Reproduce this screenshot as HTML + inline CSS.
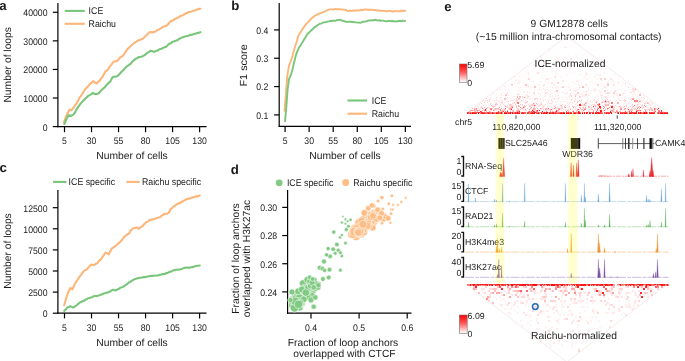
<!DOCTYPE html>
<html><head><meta charset="utf-8"><style>
html,body{margin:0;padding:0;background:#fff;width:685px;height:361px;overflow:hidden}
svg{display:block;will-change:transform;text-rendering:geometricPrecision;font-family:"Liberation Sans",sans-serif;fill:#1a1a1a}
</style></head><body>
<svg width="685" height="361" viewBox="0 0 685 361">
<text x="-0.80" y="9.80" font-size="13.2" text-anchor="start" font-weight="bold" >a</text>
<line x1="57.90" y1="3.10" x2="57.90" y2="127.20" stroke="#000" stroke-width="1.2" />
<line x1="57.30" y1="126.60" x2="206.50" y2="126.60" stroke="#000" stroke-width="1.2" />
<line x1="52.80" y1="126.60" x2="57.90" y2="126.60" stroke="#000" stroke-width="1.2" />
<text x="0" y="0" font-size="8.7" text-anchor="end" transform="translate(47.50,130.50) scale(1,1.1)" >0</text>
<line x1="52.80" y1="98.02" x2="57.90" y2="98.02" stroke="#000" stroke-width="1.2" />
<text x="0" y="0" font-size="8.7" text-anchor="end" transform="translate(47.50,101.92) scale(1,1.1)" >10000</text>
<line x1="52.80" y1="69.44" x2="57.90" y2="69.44" stroke="#000" stroke-width="1.2" />
<text x="0" y="0" font-size="8.7" text-anchor="end" transform="translate(47.50,73.34) scale(1,1.1)" >20000</text>
<line x1="52.80" y1="40.86" x2="57.90" y2="40.86" stroke="#000" stroke-width="1.2" />
<text x="0" y="0" font-size="8.7" text-anchor="end" transform="translate(47.50,44.76) scale(1,1.1)" >30000</text>
<line x1="52.80" y1="12.28" x2="57.90" y2="12.28" stroke="#000" stroke-width="1.2" />
<text x="0" y="0" font-size="8.7" text-anchor="end" transform="translate(47.50,16.18) scale(1,1.1)" >40000</text>
<line x1="64.50" y1="126.60" x2="64.50" y2="132.20" stroke="#000" stroke-width="1.2" />
<text x="0" y="0" font-size="8.7" text-anchor="middle" transform="translate(64.50,144.30) scale(1,1.1)" >5</text>
<line x1="91.52" y1="126.60" x2="91.52" y2="132.20" stroke="#000" stroke-width="1.2" />
<text x="0" y="0" font-size="8.7" text-anchor="middle" transform="translate(91.52,144.30) scale(1,1.1)" >30</text>
<line x1="118.54" y1="126.60" x2="118.54" y2="132.20" stroke="#000" stroke-width="1.2" />
<text x="0" y="0" font-size="8.7" text-anchor="middle" transform="translate(118.54,144.30) scale(1,1.1)" >55</text>
<line x1="145.56" y1="126.60" x2="145.56" y2="132.20" stroke="#000" stroke-width="1.2" />
<text x="0" y="0" font-size="8.7" text-anchor="middle" transform="translate(145.56,144.30) scale(1,1.1)" >80</text>
<line x1="172.58" y1="126.60" x2="172.58" y2="132.20" stroke="#000" stroke-width="1.2" />
<text x="0" y="0" font-size="8.7" text-anchor="middle" transform="translate(172.58,144.30) scale(1,1.1)" >105</text>
<line x1="199.60" y1="126.60" x2="199.60" y2="132.20" stroke="#000" stroke-width="1.2" />
<text x="0" y="0" font-size="8.7" text-anchor="middle" transform="translate(199.60,144.30) scale(1,1.1)" >130</text>
<text x="132.00" y="159.30" font-size="10.3" text-anchor="middle" >Number of cells</text>
<text x="0.00" y="0.00" font-size="10.3" text-anchor="middle" transform="translate(11.3,64.8) rotate(-90)">Number of loops</text>
<polyline points="63.90,122.17 65.80,117.35 67.80,112.58 69.70,109.67 71.60,110.14 73.60,107.75 75.05,105.27 76.50,103.58 77.95,100.97 79.40,97.89 80.85,96.09 82.30,93.67 83.75,91.48 85.20,88.95 86.65,87.68 88.10,86.24 89.55,84.46 91.00,83.13 93.00,81.17 94.90,82.55 96.80,83.46 98.30,81.65 99.80,80.58 101.25,78.23 102.70,76.57 104.15,73.83 105.60,71.30 107.05,70.37 108.50,68.53 110.00,66.33 111.55,64.54 113.10,62.22 114.50,61.44 115.90,61.41 117.30,60.72 118.85,59.06 120.40,57.02 121.95,56.41 123.50,55.21 125.05,52.78 126.60,50.14 128.00,48.55 129.40,47.35 130.80,46.00 132.17,44.79 133.53,43.54 134.90,42.48 136.50,41.61 138.10,40.20 139.47,40.14 140.83,39.47 142.20,38.99 143.60,38.02 145.00,36.56 146.40,35.19 147.95,33.74 149.50,32.32 150.90,31.93 152.30,32.49 153.70,31.91 155.07,31.65 156.43,31.01 157.80,29.81 159.10,29.50 160.40,28.47 161.70,27.82 163.00,26.71 164.55,26.23 166.10,25.81 168.20,24.17 169.75,22.17 171.30,20.95 172.60,20.43 173.90,19.82 175.20,18.83 176.50,18.21 177.80,17.64 179.10,17.12 180.40,16.04 181.70,15.75 183.00,15.10 184.30,14.47 185.60,13.30 186.90,13.17 188.16,12.23 189.42,11.96 190.68,11.71 191.94,11.47 193.20,10.70 194.40,10.70 195.60,10.13 196.80,9.64 198.00,9.29 199.20,8.86 200.40,8.70" fill="none" stroke="#fdb679" stroke-width="2.1" stroke-linejoin="round" stroke-linecap="round"/>
<polyline points="64.30,124.18 65.55,121.29 66.80,118.19 68.70,115.16 70.70,115.90 72.15,115.35 73.60,114.28 75.50,111.56 76.95,108.87 78.40,106.66 79.85,104.46 81.30,102.88 82.75,101.39 84.20,99.75 85.65,98.32 87.10,96.91 88.60,95.67 90.10,94.93 91.55,94.13 93.00,92.86 94.90,94.08 96.80,94.01 98.80,93.21 100.25,91.45 101.70,89.86 103.15,88.78 104.60,87.28 106.05,85.62 107.50,83.96 108.95,82.57 110.40,81.38 112.40,77.37 114.30,76.77 115.75,76.55 117.20,76.32 119.10,74.59 120.80,72.52 122.50,70.96 123.87,69.55 125.23,67.91 126.60,66.59 128.00,65.59 129.40,64.62 130.80,63.69 132.17,61.75 133.53,60.58 134.90,59.36 136.30,58.48 137.70,57.95 139.10,56.95 140.50,57.06 141.90,56.48 143.30,55.87 144.67,55.16 146.03,53.92 147.40,52.82 148.95,51.94 150.50,50.68 151.90,50.96 153.30,51.59 154.70,51.72 156.10,50.74 157.50,50.63 158.90,49.61 160.27,49.10 161.63,48.74 163.00,47.87 164.55,47.18 166.10,46.73 168.20,44.63 169.60,43.58 171.00,43.20 172.40,41.73 173.77,41.45 175.13,41.15 176.50,40.44 177.80,40.01 179.10,38.80 180.40,38.46 181.70,37.64 183.00,37.10 184.30,36.83 185.60,36.17 186.90,36.00 188.16,35.68 189.42,35.21 190.68,34.88 191.94,34.72 193.20,34.25 194.40,33.70 195.60,33.75 196.80,33.11 198.00,32.89 199.20,32.72 200.40,32.20" fill="none" stroke="#79c67a" stroke-width="2.1" stroke-linejoin="round" stroke-linecap="round"/>
<line x1="64.70" y1="10.90" x2="84.80" y2="10.90" stroke="#79c67a" stroke-width="2.1" />
<text x="0" y="0" font-size="8.8" text-anchor="start" transform="translate(88.60,13.90) scale(1,1.1)" >ICE</text>
<line x1="64.70" y1="23.80" x2="84.80" y2="23.80" stroke="#fdb679" stroke-width="2.1" />
<text x="0" y="0" font-size="8.8" text-anchor="start" transform="translate(88.60,26.80) scale(1,1.1)" >Raichu</text>
<text x="231.20" y="9.70" font-size="13.2" text-anchor="start" font-weight="bold" >b</text>
<line x1="279.20" y1="2.90" x2="279.20" y2="127.00" stroke="#000" stroke-width="1.2" />
<line x1="278.60" y1="126.40" x2="411.00" y2="126.40" stroke="#000" stroke-width="1.2" />
<line x1="274.10" y1="114.90" x2="279.20" y2="114.90" stroke="#000" stroke-width="1.2" />
<text x="0" y="0" font-size="8.7" text-anchor="end" transform="translate(268.30,118.80) scale(1,1.1)" >0.1</text>
<line x1="274.10" y1="86.57" x2="279.20" y2="86.57" stroke="#000" stroke-width="1.2" />
<text x="0" y="0" font-size="8.7" text-anchor="end" transform="translate(268.30,90.47) scale(1,1.1)" >0.2</text>
<line x1="274.10" y1="58.24" x2="279.20" y2="58.24" stroke="#000" stroke-width="1.2" />
<text x="0" y="0" font-size="8.7" text-anchor="end" transform="translate(268.30,62.14) scale(1,1.1)" >0.3</text>
<line x1="274.10" y1="29.91" x2="279.20" y2="29.91" stroke="#000" stroke-width="1.2" />
<text x="0" y="0" font-size="8.7" text-anchor="end" transform="translate(268.30,33.81) scale(1,1.1)" >0.4</text>
<line x1="285.10" y1="126.40" x2="285.10" y2="132.00" stroke="#000" stroke-width="1.2" />
<text x="0" y="0" font-size="8.7" text-anchor="middle" transform="translate(285.10,144.30) scale(1,1.1)" >5</text>
<line x1="309.15" y1="126.40" x2="309.15" y2="132.00" stroke="#000" stroke-width="1.2" />
<text x="0" y="0" font-size="8.7" text-anchor="middle" transform="translate(309.15,144.30) scale(1,1.1)" >30</text>
<line x1="333.20" y1="126.40" x2="333.20" y2="132.00" stroke="#000" stroke-width="1.2" />
<text x="0" y="0" font-size="8.7" text-anchor="middle" transform="translate(333.20,144.30) scale(1,1.1)" >55</text>
<line x1="357.25" y1="126.40" x2="357.25" y2="132.00" stroke="#000" stroke-width="1.2" />
<text x="0" y="0" font-size="8.7" text-anchor="middle" transform="translate(357.25,144.30) scale(1,1.1)" >80</text>
<line x1="381.30" y1="126.40" x2="381.30" y2="132.00" stroke="#000" stroke-width="1.2" />
<text x="0" y="0" font-size="8.7" text-anchor="middle" transform="translate(381.30,144.30) scale(1,1.1)" >105</text>
<line x1="405.35" y1="126.40" x2="405.35" y2="132.00" stroke="#000" stroke-width="1.2" />
<text x="0" y="0" font-size="8.7" text-anchor="middle" transform="translate(405.35,144.30) scale(1,1.1)" >130</text>
<text x="345.00" y="159.30" font-size="10.3" text-anchor="middle" >Number of cells</text>
<text x="0.00" y="0.00" font-size="10.3" text-anchor="middle" textLength="42.4" lengthAdjust="spacingAndGlyphs" transform="translate(247.3,65.4) rotate(-90)">F1 score</text>
<polyline points="284.50,110.72 285.90,94.61 287.10,77.49 289.00,65.71 290.60,61.53 292.30,56.67 294.20,49.52 296.50,42.27 298.50,35.27 299.83,33.31 301.17,31.32 302.50,29.06 303.80,27.32 305.10,25.36 306.40,23.66 307.62,22.62 308.85,21.36 310.07,19.86 311.30,18.56 312.75,17.46 314.20,16.33 315.65,15.34 317.10,14.68 318.58,13.92 320.05,13.32 321.52,13.02 323.00,12.12 324.48,11.57 325.95,10.77 327.42,10.04 328.90,9.68 330.35,9.35 331.80,9.41 333.25,9.55 334.70,9.12 336.02,8.81 337.33,9.34 338.65,9.31 339.97,9.30 341.28,9.45 342.60,9.38 344.05,9.80 345.50,9.90 346.95,10.74 348.40,11.12 349.70,10.50 351.00,10.84 352.30,10.75 353.60,10.51 354.90,10.49 356.20,10.39 357.43,10.57 358.65,10.15 359.88,10.26 361.10,9.80 362.32,10.04 363.55,9.93 364.77,9.50 366.00,9.45 367.23,9.79 368.45,9.76 369.68,9.69 370.90,9.61 372.12,9.78 373.35,10.14 374.57,9.87 375.80,10.49 377.10,10.15 378.40,10.71 379.70,10.40 381.00,10.96 382.30,10.90 383.60,10.87 384.90,10.99 386.20,11.19 387.50,11.26 388.82,11.07 390.13,11.00 391.45,11.21 392.77,11.50 394.08,11.29 395.40,10.90 396.62,11.37 397.85,11.26 399.07,11.34 400.30,10.78 401.52,11.12 402.75,10.59 403.97,10.96 405.20,10.80" fill="none" stroke="#fdb679" stroke-width="1.9" stroke-linejoin="round" stroke-linecap="round"/>
<polyline points="285.00,121.32 286.40,106.13 287.60,89.51 289.00,79.07 290.60,75.49 292.30,70.40 294.20,62.06 296.10,54.44 297.65,50.53 299.20,47.01 300.47,45.58 301.73,43.25 303.00,41.54 304.43,38.92 305.87,36.66 307.30,33.96 308.52,33.07 309.75,32.01 310.98,30.54 312.20,29.47 313.43,28.44 314.65,27.04 315.88,26.56 317.10,25.46 318.58,24.54 320.05,23.62 321.52,23.48 323.00,22.48 324.48,22.30 325.95,22.07 327.42,21.60 328.90,21.39 330.35,20.88 331.80,21.01 333.25,20.61 334.70,20.80 336.18,20.64 337.65,19.97 339.12,19.87 340.60,19.80 342.08,20.80 343.55,20.91 345.02,21.51 346.50,21.76 347.95,21.91 349.40,21.82 350.85,21.80 352.30,21.96 353.62,22.06 354.93,22.38 356.25,22.33 357.57,22.60 358.88,22.65 360.20,22.84 361.50,22.29 362.80,21.60 364.10,21.75 365.40,21.49 366.70,21.12 368.00,20.55 369.30,20.58 370.60,20.16 371.90,20.53 373.20,20.28 374.50,20.02 375.80,19.79 377.03,20.47 378.25,20.69 379.48,20.19 380.70,20.81 381.93,20.66 383.15,20.61 384.38,20.83 385.60,21.29 386.83,21.36 388.05,20.78 389.27,21.18 390.50,20.78 391.73,21.25 392.95,20.98 394.17,21.37 395.40,21.44 396.62,21.10 397.85,21.45 399.07,20.97 400.30,20.80 401.52,21.17 402.75,20.77 403.97,20.89 405.20,21.10" fill="none" stroke="#79c67a" stroke-width="1.9" stroke-linejoin="round" stroke-linecap="round"/>
<line x1="347.50" y1="100.50" x2="367.00" y2="100.50" stroke="#79c67a" stroke-width="2.1" />
<text x="0" y="0" font-size="8.8" text-anchor="start" transform="translate(371.70,103.50) scale(1,1.1)" >ICE</text>
<line x1="347.50" y1="113.70" x2="367.00" y2="113.70" stroke="#fdb679" stroke-width="2.1" />
<text x="0" y="0" font-size="8.8" text-anchor="start" transform="translate(371.70,116.70) scale(1,1.1)" >Raichu</text>
<text x="-0.60" y="171.90" font-size="13.2" text-anchor="start" font-weight="bold" >c</text>
<line x1="57.90" y1="190.00" x2="57.90" y2="313.80" stroke="#000" stroke-width="1.2" />
<line x1="57.30" y1="313.20" x2="206.50" y2="313.20" stroke="#000" stroke-width="1.2" />
<line x1="52.80" y1="313.20" x2="57.90" y2="313.20" stroke="#000" stroke-width="1.2" />
<text x="0" y="0" font-size="8.7" text-anchor="end" transform="translate(47.50,317.10) scale(1,1.1)" >0</text>
<line x1="52.80" y1="292.10" x2="57.90" y2="292.10" stroke="#000" stroke-width="1.2" />
<text x="0" y="0" font-size="8.7" text-anchor="end" transform="translate(47.50,296.00) scale(1,1.1)" >2500</text>
<line x1="52.80" y1="271.00" x2="57.90" y2="271.00" stroke="#000" stroke-width="1.2" />
<text x="0" y="0" font-size="8.7" text-anchor="end" transform="translate(47.50,274.90) scale(1,1.1)" >5000</text>
<line x1="52.80" y1="249.90" x2="57.90" y2="249.90" stroke="#000" stroke-width="1.2" />
<text x="0" y="0" font-size="8.7" text-anchor="end" transform="translate(47.50,253.80) scale(1,1.1)" >7500</text>
<line x1="52.80" y1="228.80" x2="57.90" y2="228.80" stroke="#000" stroke-width="1.2" />
<text x="0" y="0" font-size="8.7" text-anchor="end" transform="translate(47.50,232.70) scale(1,1.1)" >10000</text>
<line x1="52.80" y1="207.70" x2="57.90" y2="207.70" stroke="#000" stroke-width="1.2" />
<text x="0" y="0" font-size="8.7" text-anchor="end" transform="translate(47.50,211.60) scale(1,1.1)" >12500</text>
<line x1="64.50" y1="313.20" x2="64.50" y2="318.40" stroke="#000" stroke-width="1.2" />
<text x="0" y="0" font-size="8.7" text-anchor="middle" transform="translate(64.50,330.50) scale(1,1.1)" >5</text>
<line x1="91.52" y1="313.20" x2="91.52" y2="318.40" stroke="#000" stroke-width="1.2" />
<text x="0" y="0" font-size="8.7" text-anchor="middle" transform="translate(91.52,330.50) scale(1,1.1)" >30</text>
<line x1="118.54" y1="313.20" x2="118.54" y2="318.40" stroke="#000" stroke-width="1.2" />
<text x="0" y="0" font-size="8.7" text-anchor="middle" transform="translate(118.54,330.50) scale(1,1.1)" >55</text>
<line x1="145.56" y1="313.20" x2="145.56" y2="318.40" stroke="#000" stroke-width="1.2" />
<text x="0" y="0" font-size="8.7" text-anchor="middle" transform="translate(145.56,330.50) scale(1,1.1)" >80</text>
<line x1="172.58" y1="313.20" x2="172.58" y2="318.40" stroke="#000" stroke-width="1.2" />
<text x="0" y="0" font-size="8.7" text-anchor="middle" transform="translate(172.58,330.50) scale(1,1.1)" >105</text>
<line x1="199.60" y1="313.20" x2="199.60" y2="318.40" stroke="#000" stroke-width="1.2" />
<text x="0" y="0" font-size="8.7" text-anchor="middle" transform="translate(199.60,330.50) scale(1,1.1)" >130</text>
<text x="132.00" y="345.50" font-size="10.3" text-anchor="middle" >Number of cells</text>
<text x="0.00" y="0.00" font-size="10.3" text-anchor="middle" transform="translate(11.3,251) rotate(-90)">Number of loops</text>
<polyline points="64.20,305.29 66.20,297.99 68.30,291.99 70.40,287.94 72.50,289.42 74.50,284.62 76.10,281.83 77.70,279.50 79.25,277.12 80.80,275.26 82.35,272.99 83.90,270.95 85.45,270.10 87.00,269.30 88.40,267.34 89.80,265.87 91.20,264.58 92.75,264.97 94.30,264.95 95.85,263.79 97.40,263.09 98.95,260.98 100.50,259.92 102.05,257.52 103.60,255.39 105.70,252.67 107.25,253.39 108.80,254.29 110.35,251.01 111.90,248.35 113.45,247.48 115.00,246.42 116.25,245.48 117.50,244.14 118.75,243.09 120.00,242.12 121.25,240.86 122.50,239.16 123.75,237.54 125.00,236.15 126.23,235.24 127.47,234.31 128.70,233.78 129.93,232.05 131.17,230.11 132.40,228.64 133.67,228.22 134.93,228.03 136.20,227.54 137.45,227.87 138.70,228.89 139.93,227.54 141.17,226.88 142.40,226.25 143.67,224.66 144.93,223.63 146.20,222.12 147.43,221.67 148.67,220.89 149.90,219.94 151.15,219.83 152.40,219.19 153.65,219.12 154.90,218.76 156.15,218.30 157.40,217.77 158.65,217.55 159.90,217.17 161.13,216.05 162.37,215.33 163.60,214.14 164.85,214.15 166.10,213.74 167.35,213.57 168.60,213.09 169.85,210.67 171.10,208.63 172.35,207.85 173.60,206.51 174.85,205.83 176.10,204.70 177.35,204.05 178.60,203.39 179.85,203.19 181.10,202.18 182.35,201.50 183.60,200.83 184.85,200.37 186.10,199.15 187.34,198.97 188.58,198.63 189.82,198.43 191.06,197.99 192.30,197.62 193.55,196.95 194.80,196.72 196.05,196.37 197.30,196.36 198.55,196.09 199.80,195.50" fill="none" stroke="#fdb679" stroke-width="2.1" stroke-linejoin="round" stroke-linecap="round"/>
<polyline points="64.20,310.84 65.75,309.53 67.30,307.28 68.85,307.12 70.40,306.25 72.50,307.35 74.05,307.10 75.60,305.93 76.97,305.05 78.33,303.81 79.70,302.67 81.10,302.03 82.50,301.18 83.90,300.90 85.27,299.75 86.63,299.14 88.00,298.31 89.30,297.94 90.60,297.49 91.90,297.27 93.20,296.43 94.50,296.07 95.80,295.96 97.10,296.19 98.40,295.44 99.70,295.25 101.00,294.58 102.30,294.22 103.60,293.50 104.90,293.29 106.20,292.75 107.50,292.41 108.80,292.14 110.20,291.28 111.60,290.35 113.00,289.64 114.55,290.37 116.10,290.29 117.47,289.28 118.83,288.90 120.20,287.85 121.60,287.37 123.00,286.90 124.40,285.97 125.95,284.76 127.50,283.83 128.75,282.58 130.00,282.16 131.22,280.93 132.45,280.46 133.68,279.65 134.90,278.97 136.15,278.73 137.40,278.35 138.65,277.99 139.90,277.79 141.15,277.77 142.40,277.51 143.65,276.99 144.90,277.24 146.15,276.80 147.40,276.72 148.65,276.23 149.90,276.05 151.15,275.78 152.40,275.86 153.65,275.69 154.90,275.65 156.15,275.45 157.40,275.55 158.65,275.41 159.90,274.81 161.15,274.61 162.40,274.15 163.65,274.12 164.90,273.98 166.15,273.10 167.40,273.01 168.65,272.31 169.90,271.71 171.15,271.66 172.40,270.91 173.65,270.30 174.90,269.96 176.12,269.71 177.35,269.70 178.58,269.59 179.80,269.45 181.05,269.18 182.30,268.62 183.55,268.13 184.80,267.75 186.05,267.64 187.30,267.76 188.55,267.54 189.80,267.68 191.05,267.25 192.30,267.12 193.55,267.04 194.80,266.24 196.05,265.96 197.30,265.78 198.55,265.68 199.80,265.50" fill="none" stroke="#79c67a" stroke-width="2.1" stroke-linejoin="round" stroke-linecap="round"/>
<line x1="53.10" y1="181.90" x2="66.40" y2="181.90" stroke="#79c67a" stroke-width="2.1" />
<text x="0" y="0" font-size="8.8" text-anchor="start" transform="translate(68.60,184.90) scale(1,1.1)" >ICE specific</text>
<line x1="126.40" y1="181.90" x2="139.70" y2="181.90" stroke="#fdb679" stroke-width="2.1" />
<text x="0" y="0" font-size="8.8" text-anchor="start" transform="translate(141.90,184.90) scale(1,1.1)" >Raichu specific</text>
<text x="230.80" y="173.60" font-size="13.2" text-anchor="start" font-weight="bold" >d</text>
<line x1="287.60" y1="190.00" x2="287.60" y2="313.80" stroke="#000" stroke-width="1.2" />
<line x1="287.00" y1="313.20" x2="411.50" y2="313.20" stroke="#000" stroke-width="1.2" />
<line x1="282.20" y1="291.90" x2="287.60" y2="291.90" stroke="#000" stroke-width="1.2" />
<text x="0" y="0" font-size="8.7" text-anchor="end" transform="translate(277.10,295.70) scale(1,1.1)" >0.24</text>
<line x1="282.20" y1="263.73" x2="287.60" y2="263.73" stroke="#000" stroke-width="1.2" />
<text x="0" y="0" font-size="8.7" text-anchor="end" transform="translate(277.10,267.53) scale(1,1.1)" >0.26</text>
<line x1="282.20" y1="235.56" x2="287.60" y2="235.56" stroke="#000" stroke-width="1.2" />
<text x="0" y="0" font-size="8.7" text-anchor="end" transform="translate(277.10,239.36) scale(1,1.1)" >0.28</text>
<line x1="282.20" y1="207.39" x2="287.60" y2="207.39" stroke="#000" stroke-width="1.2" />
<text x="0" y="0" font-size="8.7" text-anchor="end" transform="translate(277.10,211.19) scale(1,1.1)" >0.30</text>
<line x1="311.00" y1="313.20" x2="311.00" y2="318.40" stroke="#000" stroke-width="1.2" />
<text x="0" y="0" font-size="8.7" text-anchor="middle" transform="translate(311.00,330.50) scale(1,1.1)" >0.4</text>
<line x1="359.10" y1="313.20" x2="359.10" y2="318.40" stroke="#000" stroke-width="1.2" />
<text x="0" y="0" font-size="8.7" text-anchor="middle" transform="translate(359.10,330.50) scale(1,1.1)" >0.5</text>
<line x1="407.20" y1="313.20" x2="407.20" y2="318.40" stroke="#000" stroke-width="1.2" />
<text x="0" y="0" font-size="8.7" text-anchor="middle" transform="translate(407.20,330.50) scale(1,1.1)" >0.6</text>
<text x="343.00" y="346.10" font-size="10.3" text-anchor="middle" >Fraction of loop anchors</text>
<text x="344.40" y="356.90" font-size="10.3" text-anchor="middle" >overlapped with CTCF</text>
<text x="0.00" y="0.00" font-size="10.3" text-anchor="middle" transform="translate(238.8,258.5) rotate(-90)">Fraction of loop anchors</text>
<text x="0.00" y="0.00" font-size="10.3" text-anchor="middle" transform="translate(249.6,258.6) rotate(-90)">overlapped with H3K27ac</text>
<circle cx="279.2" cy="182.8" r="3.4" fill="#82ca83"/>
<text x="0" y="0" font-size="8.8" text-anchor="start" transform="translate(286.90,185.50) scale(1,1.1)" >ICE specific</text>
<circle cx="345.7" cy="182.6" r="3.5" fill="#fdbd85"/>
<text x="0" y="0" font-size="8.8" text-anchor="start" transform="translate(353.20,185.50) scale(1,1.1)" >Raichu specific</text>
<circle cx="355.6" cy="231.6" r="4.43" fill="#fdbd85" stroke="#fff" stroke-width="0.55"/>
<circle cx="383.9" cy="219.1" r="2.90" fill="#fdbd85" stroke="#fff" stroke-width="0.55"/>
<circle cx="303.1" cy="283.4" r="3.70" fill="#82ca83" stroke="#fff" stroke-width="0.55"/>
<circle cx="292.7" cy="299.9" r="3.40" fill="#82ca83" stroke="#fff" stroke-width="0.55"/>
<circle cx="305.2" cy="294.3" r="3.05" fill="#82ca83" stroke="#fff" stroke-width="0.55"/>
<circle cx="382.7" cy="209.1" r="1.80" fill="#fdbd85" stroke="#fff" stroke-width="0.55"/>
<circle cx="309.1" cy="291.7" r="3.29" fill="#82ca83" stroke="#fff" stroke-width="0.55"/>
<circle cx="391.1" cy="213.6" r="1.70" fill="#fdbd85" stroke="#fff" stroke-width="0.55"/>
<circle cx="355.3" cy="228.9" r="4.90" fill="#fdbd85" stroke="#fff" stroke-width="0.55"/>
<circle cx="391.9" cy="195.8" r="1.70" fill="#fdbd85" stroke="#fff" stroke-width="0.55"/>
<circle cx="328.7" cy="277.5" r="2.40" fill="#82ca83" stroke="#fff" stroke-width="0.55"/>
<circle cx="372.1" cy="220.2" r="3.49" fill="#fdbd85" stroke="#fff" stroke-width="0.55"/>
<circle cx="297.2" cy="294.5" r="4.15" fill="#82ca83" stroke="#fff" stroke-width="0.55"/>
<circle cx="305.0" cy="287.0" r="3.00" fill="#82ca83" stroke="#fff" stroke-width="0.55"/>
<circle cx="359.0" cy="227.1" r="4.06" fill="#fdbd85" stroke="#fff" stroke-width="0.55"/>
<circle cx="393.1" cy="204.9" r="1.40" fill="#fdbd85" stroke="#fff" stroke-width="0.55"/>
<circle cx="358.6" cy="234.0" r="3.95" fill="#fdbd85" stroke="#fff" stroke-width="0.55"/>
<circle cx="314.4" cy="286.9" r="3.01" fill="#82ca83" stroke="#fff" stroke-width="0.55"/>
<circle cx="341.9" cy="235.0" r="1.60" fill="#82ca83" stroke="#fff" stroke-width="0.55"/>
<circle cx="303.2" cy="296.3" r="3.90" fill="#82ca83" stroke="#fff" stroke-width="0.55"/>
<circle cx="291.5" cy="305.4" r="3.00" fill="#82ca83" stroke="#fff" stroke-width="0.55"/>
<circle cx="305.6" cy="292.3" r="3.30" fill="#82ca83" stroke="#fff" stroke-width="0.55"/>
<circle cx="302.7" cy="288.3" r="2.95" fill="#82ca83" stroke="#fff" stroke-width="0.55"/>
<circle cx="313.4" cy="290.7" r="3.00" fill="#82ca83" stroke="#fff" stroke-width="0.55"/>
<circle cx="302.2" cy="298.4" r="4.01" fill="#82ca83" stroke="#fff" stroke-width="0.55"/>
<circle cx="310.3" cy="288.4" r="3.34" fill="#82ca83" stroke="#fff" stroke-width="0.55"/>
<circle cx="335.2" cy="253.3" r="1.90" fill="#82ca83" stroke="#fff" stroke-width="0.55"/>
<circle cx="341.9" cy="222.6" r="1.50" fill="#82ca83" stroke="#fff" stroke-width="0.55"/>
<circle cx="377.0" cy="211.4" r="2.66" fill="#fdbd85" stroke="#fff" stroke-width="0.55"/>
<circle cx="297.2" cy="304.3" r="4.37" fill="#82ca83" stroke="#fff" stroke-width="0.55"/>
<circle cx="380.5" cy="211.2" r="2.25" fill="#fdbd85" stroke="#fff" stroke-width="0.55"/>
<circle cx="312.4" cy="295.9" r="3.28" fill="#82ca83" stroke="#fff" stroke-width="0.55"/>
<circle cx="368.2" cy="208.3" r="2.70" fill="#fdbd85" stroke="#fff" stroke-width="0.55"/>
<circle cx="391.1" cy="209.5" r="1.50" fill="#fdbd85" stroke="#fff" stroke-width="0.55"/>
<circle cx="324.0" cy="261.5" r="2.50" fill="#82ca83" stroke="#fff" stroke-width="0.55"/>
<circle cx="356.1" cy="236.1" r="4.50" fill="#fdbd85" stroke="#fff" stroke-width="0.55"/>
<circle cx="359.1" cy="222.8" r="4.30" fill="#fdbd85" stroke="#fff" stroke-width="0.55"/>
<circle cx="376.1" cy="215.5" r="2.60" fill="#fdbd85" stroke="#fff" stroke-width="0.55"/>
<circle cx="368.5" cy="222.8" r="3.90" fill="#fdbd85" stroke="#fff" stroke-width="0.55"/>
<circle cx="372.9" cy="212.4" r="2.89" fill="#fdbd85" stroke="#fff" stroke-width="0.55"/>
<circle cx="373.0" cy="220.0" r="3.03" fill="#fdbd85" stroke="#fff" stroke-width="0.55"/>
<circle cx="311.7" cy="279.4" r="2.38" fill="#82ca83" stroke="#fff" stroke-width="0.55"/>
<circle cx="375.3" cy="218.7" r="3.22" fill="#fdbd85" stroke="#fff" stroke-width="0.55"/>
<circle cx="300.0" cy="308.0" r="3.00" fill="#82ca83" stroke="#fff" stroke-width="0.55"/>
<circle cx="298.3" cy="299.9" r="3.98" fill="#82ca83" stroke="#fff" stroke-width="0.55"/>
<circle cx="373.6" cy="222.6" r="3.65" fill="#fdbd85" stroke="#fff" stroke-width="0.55"/>
<circle cx="310.9" cy="282.7" r="2.67" fill="#82ca83" stroke="#fff" stroke-width="0.55"/>
<circle cx="315.1" cy="289.0" r="2.60" fill="#82ca83" stroke="#fff" stroke-width="0.55"/>
<circle cx="307.3" cy="279.8" r="3.40" fill="#82ca83" stroke="#fff" stroke-width="0.55"/>
<circle cx="318.8" cy="284.1" r="2.50" fill="#82ca83" stroke="#fff" stroke-width="0.55"/>
<circle cx="361.2" cy="233.9" r="4.03" fill="#fdbd85" stroke="#fff" stroke-width="0.55"/>
<circle cx="361.6" cy="233.3" r="3.64" fill="#fdbd85" stroke="#fff" stroke-width="0.55"/>
<circle cx="295.8" cy="295.0" r="4.30" fill="#82ca83" stroke="#fff" stroke-width="0.55"/>
<circle cx="354.8" cy="232.3" r="4.02" fill="#fdbd85" stroke="#fff" stroke-width="0.55"/>
<circle cx="330.1" cy="256.4" r="2.30" fill="#82ca83" stroke="#fff" stroke-width="0.55"/>
<circle cx="305.5" cy="295.6" r="3.00" fill="#82ca83" stroke="#fff" stroke-width="0.55"/>
<circle cx="363.2" cy="219.0" r="3.46" fill="#fdbd85" stroke="#fff" stroke-width="0.55"/>
<circle cx="292.4" cy="300.5" r="4.44" fill="#82ca83" stroke="#fff" stroke-width="0.55"/>
<circle cx="380.2" cy="214.8" r="2.50" fill="#fdbd85" stroke="#fff" stroke-width="0.55"/>
<circle cx="308.6" cy="297.4" r="3.00" fill="#82ca83" stroke="#fff" stroke-width="0.55"/>
<circle cx="356.3" cy="232.4" r="4.28" fill="#fdbd85" stroke="#fff" stroke-width="0.55"/>
<circle cx="301.9" cy="303.5" r="3.40" fill="#82ca83" stroke="#fff" stroke-width="0.55"/>
<circle cx="305.1" cy="292.2" r="3.34" fill="#82ca83" stroke="#fff" stroke-width="0.55"/>
<circle cx="294.2" cy="300.5" r="3.86" fill="#82ca83" stroke="#fff" stroke-width="0.55"/>
<circle cx="377.3" cy="219.1" r="3.44" fill="#fdbd85" stroke="#fff" stroke-width="0.55"/>
<circle cx="316.8" cy="285.3" r="2.26" fill="#82ca83" stroke="#fff" stroke-width="0.55"/>
<circle cx="346.3" cy="229.9" r="1.90" fill="#82ca83" stroke="#fff" stroke-width="0.55"/>
<circle cx="364.4" cy="212.9" r="3.40" fill="#fdbd85" stroke="#fff" stroke-width="0.55"/>
<circle cx="300.5" cy="302.8" r="4.29" fill="#82ca83" stroke="#fff" stroke-width="0.55"/>
<circle cx="357.8" cy="234.1" r="3.77" fill="#fdbd85" stroke="#fff" stroke-width="0.55"/>
<circle cx="369.0" cy="225.5" r="3.64" fill="#fdbd85" stroke="#fff" stroke-width="0.55"/>
<circle cx="329.5" cy="269.7" r="2.40" fill="#82ca83" stroke="#fff" stroke-width="0.55"/>
<circle cx="369.4" cy="217.1" r="3.62" fill="#fdbd85" stroke="#fff" stroke-width="0.55"/>
<circle cx="348.6" cy="226.4" r="1.40" fill="#82ca83" stroke="#fff" stroke-width="0.55"/>
<circle cx="373.6" cy="206.0" r="2.40" fill="#fdbd85" stroke="#fff" stroke-width="0.55"/>
<circle cx="307.5" cy="289.3" r="3.56" fill="#82ca83" stroke="#fff" stroke-width="0.55"/>
<circle cx="353.6" cy="234.3" r="4.10" fill="#fdbd85" stroke="#fff" stroke-width="0.55"/>
<circle cx="398.0" cy="204.9" r="1.40" fill="#fdbd85" stroke="#fff" stroke-width="0.55"/>
<circle cx="297.7" cy="303.1" r="4.30" fill="#82ca83" stroke="#fff" stroke-width="0.55"/>
<circle cx="372.5" cy="223.3" r="3.12" fill="#fdbd85" stroke="#fff" stroke-width="0.55"/>
<circle cx="371.0" cy="217.3" r="3.31" fill="#fdbd85" stroke="#fff" stroke-width="0.55"/>
<circle cx="311.0" cy="299.9" r="3.00" fill="#82ca83" stroke="#fff" stroke-width="0.55"/>
<circle cx="385.0" cy="214.4" r="1.60" fill="#fdbd85" stroke="#fff" stroke-width="0.55"/>
<circle cx="353.7" cy="230.8" r="4.55" fill="#fdbd85" stroke="#fff" stroke-width="0.55"/>
<circle cx="351.9" cy="234.5" r="4.11" fill="#fdbd85" stroke="#fff" stroke-width="0.55"/>
<circle cx="385.8" cy="218.2" r="1.60" fill="#fdbd85" stroke="#fff" stroke-width="0.55"/>
<circle cx="345.5" cy="243.1" r="1.80" fill="#82ca83" stroke="#fff" stroke-width="0.55"/>
<circle cx="309.4" cy="281.8" r="2.89" fill="#82ca83" stroke="#fff" stroke-width="0.55"/>
<circle cx="372.4" cy="222.0" r="2.98" fill="#fdbd85" stroke="#fff" stroke-width="0.55"/>
<circle cx="361.5" cy="220.7" r="3.62" fill="#fdbd85" stroke="#fff" stroke-width="0.55"/>
<circle cx="401.3" cy="201.9" r="1.50" fill="#fdbd85" stroke="#fff" stroke-width="0.55"/>
<circle cx="368.4" cy="224.5" r="3.74" fill="#fdbd85" stroke="#fff" stroke-width="0.55"/>
<circle cx="318.0" cy="287.4" r="2.92" fill="#82ca83" stroke="#fff" stroke-width="0.55"/>
<circle cx="364.4" cy="227.3" r="3.42" fill="#fdbd85" stroke="#fff" stroke-width="0.55"/>
<circle cx="328.1" cy="248.6" r="2.10" fill="#82ca83" stroke="#fff" stroke-width="0.55"/>
<circle cx="338.3" cy="250.3" r="2.10" fill="#82ca83" stroke="#fff" stroke-width="0.55"/>
<circle cx="314.0" cy="284.6" r="2.70" fill="#82ca83" stroke="#fff" stroke-width="0.55"/>
<circle cx="296.0" cy="299.0" r="4.11" fill="#82ca83" stroke="#fff" stroke-width="0.55"/>
<circle cx="304.9" cy="291.7" r="3.39" fill="#82ca83" stroke="#fff" stroke-width="0.55"/>
<circle cx="294.5" cy="307.8" r="4.30" fill="#82ca83" stroke="#fff" stroke-width="0.55"/>
<circle cx="367.8" cy="221.3" r="3.22" fill="#fdbd85" stroke="#fff" stroke-width="0.55"/>
<circle cx="299.3" cy="297.6" r="3.85" fill="#82ca83" stroke="#fff" stroke-width="0.55"/>
<circle cx="360.8" cy="230.4" r="3.94" fill="#fdbd85" stroke="#fff" stroke-width="0.55"/>
<circle cx="362.1" cy="226.5" r="3.83" fill="#fdbd85" stroke="#fff" stroke-width="0.55"/>
<circle cx="345.4" cy="223.8" r="1.30" fill="#82ca83" stroke="#fff" stroke-width="0.55"/>
<circle cx="314.1" cy="280.0" r="3.01" fill="#82ca83" stroke="#fff" stroke-width="0.55"/>
<circle cx="292.0" cy="292.0" r="3.00" fill="#82ca83" stroke="#fff" stroke-width="0.55"/>
<circle cx="353.7" cy="234.2" r="4.30" fill="#fdbd85" stroke="#fff" stroke-width="0.55"/>
<circle cx="348.5" cy="226.2" r="1.80" fill="#82ca83" stroke="#fff" stroke-width="0.55"/>
<circle cx="333.8" cy="232.1" r="2.10" fill="#82ca83" stroke="#fff" stroke-width="0.55"/>
<circle cx="368.4" cy="221.2" r="3.41" fill="#fdbd85" stroke="#fff" stroke-width="0.55"/>
<circle cx="378.1" cy="201.0" r="1.80" fill="#fdbd85" stroke="#fff" stroke-width="0.55"/>
<circle cx="371.9" cy="205.4" r="2.69" fill="#fdbd85" stroke="#fff" stroke-width="0.55"/>
<circle cx="364.3" cy="230.1" r="4.01" fill="#fdbd85" stroke="#fff" stroke-width="0.55"/>
<circle cx="369.3" cy="225.5" r="3.66" fill="#fdbd85" stroke="#fff" stroke-width="0.55"/>
<circle cx="298.2" cy="291.3" r="3.40" fill="#82ca83" stroke="#fff" stroke-width="0.55"/>
<circle cx="308.6" cy="289.5" r="2.70" fill="#82ca83" stroke="#fff" stroke-width="0.55"/>
<circle cx="309.6" cy="277.2" r="2.28" fill="#82ca83" stroke="#fff" stroke-width="0.55"/>
<circle cx="303.7" cy="299.3" r="3.40" fill="#82ca83" stroke="#fff" stroke-width="0.55"/>
<circle cx="316.5" cy="283.5" r="2.60" fill="#82ca83" stroke="#fff" stroke-width="0.55"/>
<circle cx="378.1" cy="209.8" r="2.30" fill="#fdbd85" stroke="#fff" stroke-width="0.55"/>
<circle cx="340.4" cy="270.2" r="1.90" fill="#82ca83" stroke="#fff" stroke-width="0.55"/>
<circle cx="313.8" cy="306.8" r="2.70" fill="#82ca83" stroke="#fff" stroke-width="0.55"/>
<circle cx="360.0" cy="230.7" r="3.76" fill="#fdbd85" stroke="#fff" stroke-width="0.55"/>
<circle cx="358.4" cy="227.4" r="4.33" fill="#fdbd85" stroke="#fff" stroke-width="0.55"/>
<circle cx="340.4" cy="252.7" r="1.90" fill="#82ca83" stroke="#fff" stroke-width="0.55"/>
<circle cx="298.2" cy="301.1" r="3.70" fill="#82ca83" stroke="#fff" stroke-width="0.55"/>
<circle cx="350.5" cy="219.8" r="1.70" fill="#82ca83" stroke="#fff" stroke-width="0.55"/>
<circle cx="372.8" cy="227.8" r="3.26" fill="#fdbd85" stroke="#fff" stroke-width="0.55"/>
<circle cx="322.9" cy="279.0" r="2.40" fill="#82ca83" stroke="#fff" stroke-width="0.55"/>
<circle cx="377.0" cy="220.0" r="2.78" fill="#fdbd85" stroke="#fff" stroke-width="0.55"/>
<circle cx="381.1" cy="212.9" r="2.45" fill="#fdbd85" stroke="#fff" stroke-width="0.55"/>
<circle cx="315.3" cy="297.4" r="2.70" fill="#82ca83" stroke="#fff" stroke-width="0.55"/>
<circle cx="318.3" cy="285.2" r="2.70" fill="#82ca83" stroke="#fff" stroke-width="0.55"/>
<circle cx="341.8" cy="256.0" r="1.80" fill="#82ca83" stroke="#fff" stroke-width="0.55"/>
<circle cx="385.8" cy="216.9" r="2.78" fill="#fdbd85" stroke="#fff" stroke-width="0.55"/>
<circle cx="301.9" cy="289.5" r="3.40" fill="#82ca83" stroke="#fff" stroke-width="0.55"/>
<circle cx="345.4" cy="219.4" r="1.30" fill="#82ca83" stroke="#fff" stroke-width="0.55"/>
<circle cx="388.1" cy="218.2" r="2.84" fill="#fdbd85" stroke="#fff" stroke-width="0.55"/>
<circle cx="295.2" cy="301.2" r="4.06" fill="#82ca83" stroke="#fff" stroke-width="0.55"/>
<circle cx="365.0" cy="227.3" r="3.35" fill="#fdbd85" stroke="#fff" stroke-width="0.55"/>
<circle cx="326.6" cy="254.8" r="2.10" fill="#82ca83" stroke="#fff" stroke-width="0.55"/>
<circle cx="307.9" cy="287.7" r="3.22" fill="#82ca83" stroke="#fff" stroke-width="0.55"/>
<circle cx="300.1" cy="303.0" r="3.76" fill="#82ca83" stroke="#fff" stroke-width="0.55"/>
<circle cx="376.1" cy="211.9" r="2.47" fill="#fdbd85" stroke="#fff" stroke-width="0.55"/>
<circle cx="380.4" cy="213.8" r="2.56" fill="#fdbd85" stroke="#fff" stroke-width="0.55"/>
<circle cx="310.4" cy="285.9" r="3.00" fill="#82ca83" stroke="#fff" stroke-width="0.55"/>
<circle cx="388.8" cy="203.7" r="1.70" fill="#fdbd85" stroke="#fff" stroke-width="0.55"/>
<circle cx="346.4" cy="229.6" r="2.00" fill="#82ca83" stroke="#fff" stroke-width="0.55"/>
<circle cx="319.8" cy="267.7" r="2.50" fill="#82ca83" stroke="#fff" stroke-width="0.55"/>
<circle cx="381.4" cy="213.5" r="3.04" fill="#fdbd85" stroke="#fff" stroke-width="0.55"/>
<circle cx="390.3" cy="222.8" r="1.50" fill="#fdbd85" stroke="#fff" stroke-width="0.55"/>
<circle cx="381.9" cy="223.2" r="1.70" fill="#fdbd85" stroke="#fff" stroke-width="0.55"/>
<circle cx="371.1" cy="214.5" r="3.48" fill="#fdbd85" stroke="#fff" stroke-width="0.55"/>
<circle cx="405.6" cy="197.9" r="1.40" fill="#fdbd85" stroke="#fff" stroke-width="0.55"/>
<circle cx="305.8" cy="292.6" r="3.75" fill="#82ca83" stroke="#fff" stroke-width="0.55"/>
<circle cx="336.9" cy="244.5" r="2.30" fill="#82ca83" stroke="#fff" stroke-width="0.55"/>
<circle cx="322.5" cy="268.7" r="2.40" fill="#82ca83" stroke="#fff" stroke-width="0.55"/>
<circle cx="312.1" cy="282.8" r="3.03" fill="#82ca83" stroke="#fff" stroke-width="0.55"/>
<circle cx="363.4" cy="231.8" r="4.09" fill="#fdbd85" stroke="#fff" stroke-width="0.55"/>
<circle cx="333.2" cy="249.2" r="2.30" fill="#82ca83" stroke="#fff" stroke-width="0.55"/>
<circle cx="370.7" cy="217.6" r="3.52" fill="#fdbd85" stroke="#fff" stroke-width="0.55"/>
<circle cx="355.9" cy="229.0" r="4.40" fill="#fdbd85" stroke="#fff" stroke-width="0.55"/>
<circle cx="342.9" cy="216.6" r="1.10" fill="#82ca83" stroke="#fff" stroke-width="0.55"/>
<circle cx="372.9" cy="214.2" r="3.13" fill="#fdbd85" stroke="#fff" stroke-width="0.55"/>
<circle cx="369.6" cy="225.2" r="3.39" fill="#fdbd85" stroke="#fff" stroke-width="0.55"/>
<circle cx="312.6" cy="279.0" r="2.34" fill="#82ca83" stroke="#fff" stroke-width="0.55"/>
<circle cx="347.6" cy="221.3" r="1.30" fill="#82ca83" stroke="#fff" stroke-width="0.55"/>
<circle cx="313.7" cy="287.4" r="2.72" fill="#82ca83" stroke="#fff" stroke-width="0.55"/>
<circle cx="354.4" cy="231.7" r="4.58" fill="#fdbd85" stroke="#fff" stroke-width="0.55"/>
<circle cx="298.5" cy="304.4" r="4.07" fill="#82ca83" stroke="#fff" stroke-width="0.55"/>
<circle cx="324.6" cy="270.4" r="2.10" fill="#82ca83" stroke="#fff" stroke-width="0.55"/>
<circle cx="363.5" cy="229.7" r="3.66" fill="#fdbd85" stroke="#fff" stroke-width="0.55"/>
<circle cx="377.6" cy="209.7" r="2.75" fill="#fdbd85" stroke="#fff" stroke-width="0.55"/>
<circle cx="357.3" cy="231.6" r="3.92" fill="#fdbd85" stroke="#fff" stroke-width="0.55"/>
<circle cx="368.4" cy="223.5" r="3.42" fill="#fdbd85" stroke="#fff" stroke-width="0.55"/>
<circle cx="376.2" cy="219.5" r="2.83" fill="#fdbd85" stroke="#fff" stroke-width="0.55"/>
<circle cx="290.5" cy="300.0" r="2.60" fill="#82ca83" stroke="#fff" stroke-width="0.55"/>
<circle cx="367.5" cy="225.7" r="3.62" fill="#fdbd85" stroke="#fff" stroke-width="0.55"/>
<circle cx="379.8" cy="217.8" r="2.90" fill="#fdbd85" stroke="#fff" stroke-width="0.55"/>
<circle cx="373.0" cy="216.0" r="3.41" fill="#fdbd85" stroke="#fff" stroke-width="0.55"/>
<circle cx="340.0" cy="237.4" r="1.60" fill="#82ca83" stroke="#fff" stroke-width="0.55"/>
<circle cx="360.5" cy="230.3" r="4.10" fill="#fdbd85" stroke="#fff" stroke-width="0.55"/>
<circle cx="313.7" cy="306.7" r="2.50" fill="#82ca83" stroke="#fff" stroke-width="0.55"/>
<circle cx="359.3" cy="232.1" r="4.45" fill="#fdbd85" stroke="#fff" stroke-width="0.55"/>
<circle cx="358.3" cy="232.5" r="3.73" fill="#fdbd85" stroke="#fff" stroke-width="0.55"/>
<circle cx="392.6" cy="209.5" r="1.40" fill="#fdbd85" stroke="#fff" stroke-width="0.55"/>
<circle cx="363.0" cy="224.4" r="4.00" fill="#fdbd85" stroke="#fff" stroke-width="0.55"/>
<circle cx="381.9" cy="197.6" r="2.10" fill="#fdbd85" stroke="#fff" stroke-width="0.55"/>
<text x="444.20" y="10.50" font-size="13.2" text-anchor="start" font-weight="bold" >e</text>
<text x="569.20" y="26.80" font-size="10.3" text-anchor="middle" >9 GM12878 cells</text>
<text x="568.70" y="39.50" font-size="10.3" text-anchor="middle" >(~15 million intra-chromosomal contacts)</text>
<defs><filter id="bl" x="-5%" y="-5%" width="110%" height="110%"><feGaussianBlur stdDeviation="0.6"/></filter></defs>
<g filter="url(#bl)">
<polyline points="466.2,112.8 566.9,36 667.6,112.8" fill="none" stroke="#efe3e3" stroke-width="0.7"/>
<path fill="#ff0000" fill-opacity="0.05" d="M562 42h1v1h-1zM578 46h1v1h-1zM561 47h1v1h-1zM565 47h1v1h-1zM567 47h1v1h-1zM572 47h1v1h-1zM549 50h1v1h-1zM565 50h1v1h-1zM549 51h1v1h-1zM555 52h1v1h-1zM579 52h1v1h-1zM568 54h1v1h-1zM588 54h1v1h-1zM552 55h1v1h-1zM575 55h1v1h-1zM582 55h1v1h-1zM590 55h1v1h-1zM554 56h1v1h-1zM552 57h1v1h-1zM582 58h1v1h-1zM592 58h1v1h-1zM540 60h1v1h-1zM536 61h1v1h-1zM544 61h1v1h-1zM558 61h1v1h-1zM547 62h1v1h-1zM541 63h1v1h-1zM572 63h1v1h-1zM590 63h1v1h-1zM551 64h1v1h-1zM557 64h1v1h-1zM560 64h1v1h-1zM570 64h1v1h-1zM576 64h1v1h-1zM580 64h1v1h-1zM537 65h1v1h-1zM559 65h2v1h-2zM604 66h1v1h-1zM559 67h1v1h-1zM596 67h1v1h-1zM603 67h1v1h-1zM528 68h1v1h-1zM533 68h1v1h-1zM569 68h2v1h-2zM578 68h1v1h-1zM586 68h1v1h-1zM596 68h1v1h-1zM527 69h1v1h-1zM557 69h1v1h-1zM564 69h1v1h-1zM527 70h1v1h-1zM532 71h1v1h-1zM551 71h1v1h-1zM575 71h1v1h-1zM604 71h1v1h-1zM536 72h1v1h-1zM540 72h1v1h-1zM542 72h1v1h-1zM555 72h1v1h-1zM569 72h1v1h-1zM600 72h1v1h-1zM603 72h1v1h-1zM523 73h1v1h-1zM529 73h1v1h-1zM538 73h2v1h-2zM552 73h1v1h-1zM556 73h1v1h-1zM565 73h1v1h-1zM572 73h1v1h-1zM574 73h1v1h-1zM594 73h1v1h-1zM525 74h1v1h-1zM555 74h1v1h-1zM567 74h1v1h-1zM569 74h1v1h-1zM580 74h2v1h-2zM590 74h2v1h-2zM595 74h1v1h-1zM612 74h1v1h-1zM615 74h1v1h-1zM519 75h2v1h-2zM523 75h1v1h-1zM541 75h1v1h-1zM544 75h1v1h-1zM556 75h1v1h-1zM565 75h1v1h-1zM579 75h1v1h-1zM600 75h1v1h-1zM514 76h2v1h-2zM518 76h2v1h-2zM528 76h1v1h-1zM531 76h1v1h-1zM545 76h1v1h-1zM559 76h3v1h-3zM577 76h1v1h-1zM589 76h1v1h-1zM595 76h1v1h-1zM517 77h1v1h-1zM526 77h1v1h-1zM541 77h2v1h-2zM562 77h1v1h-1zM567 77h1v1h-1zM582 77h1v1h-1zM584 77h1v1h-1zM598 77h1v1h-1zM521 78h1v1h-1zM525 78h1v1h-1zM542 78h1v1h-1zM550 78h1v1h-1zM554 78h1v1h-1zM571 78h1v1h-1zM587 78h1v1h-1zM591 78h1v1h-1zM606 78h1v1h-1zM610 78h1v1h-1zM612 78h1v1h-1zM618 78h1v1h-1zM513 79h1v1h-1zM527 79h1v1h-1zM545 79h1v1h-1zM555 79h1v1h-1zM578 79h1v1h-1zM582 79h1v1h-1zM586 79h2v1h-2zM606 79h1v1h-1zM613 79h1v1h-1zM618 79h1v1h-1zM515 80h1v1h-1zM545 80h1v1h-1zM553 80h1v1h-1zM578 80h1v1h-1zM580 80h1v1h-1zM592 80h1v1h-1zM601 80h2v1h-2zM622 80h1v1h-1zM520 81h1v1h-1zM541 81h1v1h-1zM553 81h1v1h-1zM570 81h1v1h-1zM577 81h2v1h-2zM583 81h1v1h-1zM612 81h1v1h-1zM618 81h1v1h-1zM620 81h1v1h-1zM519 82h1v1h-1zM521 82h1v1h-1zM524 82h1v1h-1zM544 82h1v1h-1zM594 82h1v1h-1zM613 82h1v1h-1zM623 82h2v1h-2zM511 83h1v1h-1zM519 83h1v1h-1zM537 83h1v1h-1zM550 83h1v1h-1zM553 83h1v1h-1zM561 83h1v1h-1zM569 83h1v1h-1zM575 83h1v1h-1zM581 83h1v1h-1zM585 83h1v1h-1zM593 83h1v1h-1zM606 83h1v1h-1zM617 83h1v1h-1zM619 83h1v1h-1zM623 83h1v1h-1zM512 84h1v1h-1zM516 84h1v1h-1zM551 84h1v1h-1zM553 84h1v1h-1zM564 84h1v1h-1zM569 84h1v1h-1zM585 84h1v1h-1zM603 84h1v1h-1zM611 84h1v1h-1zM618 84h1v1h-1zM626 84h1v1h-1zM526 85h2v1h-2zM535 85h1v1h-1zM540 85h1v1h-1zM554 85h2v1h-2zM557 85h1v1h-1zM572 85h1v1h-1zM578 85h1v1h-1zM591 85h1v1h-1zM595 85h1v1h-1zM602 85h2v1h-2zM622 85h1v1h-1zM627 85h1v1h-1zM508 86h1v1h-1zM530 86h1v1h-1zM536 86h1v1h-1zM549 86h1v1h-1zM551 86h1v1h-1zM567 86h4v1h-4zM599 86h2v1h-2zM618 86h1v1h-1zM506 87h1v1h-1zM513 87h1v1h-1zM521 87h1v1h-1zM531 87h1v1h-1zM533 87h1v1h-1zM539 87h1v1h-1zM546 87h2v1h-2zM558 87h1v1h-1zM561 87h3v1h-3zM568 87h2v1h-2zM574 87h1v1h-1zM576 87h1v1h-1zM582 87h2v1h-2zM606 87h1v1h-1zM612 87h1v1h-1zM630 87h1v1h-1zM499 88h1v1h-1zM504 88h1v1h-1zM529 88h1v1h-1zM539 88h1v1h-1zM556 88h3v1h-3zM567 88h1v1h-1zM569 88h1v1h-1zM601 88h1v1h-1zM603 88h1v1h-1zM612 88h1v1h-1zM614 88h1v1h-1zM632 88h1v1h-1zM505 89h1v1h-1zM508 89h1v1h-1zM518 89h2v1h-2zM522 89h1v1h-1zM530 89h1v1h-1zM538 89h1v1h-1zM541 89h2v1h-2zM545 89h1v1h-1zM558 89h1v1h-1zM565 89h1v1h-1zM574 89h1v1h-1zM581 89h1v1h-1zM589 89h1v1h-1zM593 89h1v1h-1zM595 89h1v1h-1zM598 89h1v1h-1zM605 89h1v1h-1zM613 89h1v1h-1zM620 89h1v1h-1zM627 89h1v1h-1zM631 89h1v1h-1zM496 90h1v1h-1zM499 90h1v1h-1zM505 90h1v1h-1zM517 90h1v1h-1zM519 90h1v1h-1zM538 90h1v1h-1zM540 90h2v1h-2zM549 90h1v1h-1zM566 90h1v1h-1zM569 90h1v1h-1zM573 90h1v1h-1zM576 90h1v1h-1zM582 90h1v1h-1zM585 90h1v1h-1zM587 90h1v1h-1zM590 90h1v1h-1zM596 90h1v1h-1zM601 90h1v1h-1zM604 90h1v1h-1zM615 90h1v1h-1zM625 90h1v1h-1zM632 90h2v1h-2zM636 90h1v1h-1zM508 91h1v1h-1zM516 91h1v1h-1zM524 91h1v1h-1zM550 91h1v1h-1zM575 91h1v1h-1zM584 91h2v1h-2zM593 91h1v1h-1zM609 91h1v1h-1zM613 91h1v1h-1zM621 91h1v1h-1zM628 91h1v1h-1zM634 91h1v1h-1zM503 92h1v1h-1zM523 92h1v1h-1zM531 92h1v1h-1zM538 92h1v1h-1zM544 92h1v1h-1zM546 92h2v1h-2zM577 92h1v1h-1zM582 92h1v1h-1zM601 92h1v1h-1zM633 92h1v1h-1zM496 93h1v1h-1zM498 93h1v1h-1zM500 93h2v1h-2zM511 93h1v1h-1zM514 93h1v1h-1zM517 93h2v1h-2zM521 93h1v1h-1zM540 93h1v1h-1zM545 93h1v1h-1zM547 93h2v1h-2zM554 93h1v1h-1zM564 93h2v1h-2zM567 93h1v1h-1zM579 93h1v1h-1zM586 93h1v1h-1zM588 93h1v1h-1zM605 93h1v1h-1zM607 93h1v1h-1zM609 93h1v1h-1zM614 93h1v1h-1zM625 93h1v1h-1zM640 93h1v1h-1zM492 94h1v1h-1zM494 94h1v1h-1zM503 94h1v1h-1zM506 94h1v1h-1zM519 94h1v1h-1zM524 94h2v1h-2zM529 94h1v1h-1zM534 94h1v1h-1zM544 94h1v1h-1zM547 94h1v1h-1zM553 94h1v1h-1zM566 94h1v1h-1zM573 94h2v1h-2zM579 94h1v1h-1zM591 94h1v1h-1zM597 94h1v1h-1zM605 94h1v1h-1zM613 94h1v1h-1zM616 94h1v1h-1zM630 94h1v1h-1zM632 94h1v1h-1zM634 94h1v1h-1zM639 94h2v1h-2zM491 95h1v1h-1zM495 95h1v1h-1zM502 95h1v1h-1zM505 95h1v1h-1zM509 95h1v1h-1zM525 95h1v1h-1zM531 95h1v1h-1zM534 95h1v1h-1zM540 95h1v1h-1zM546 95h1v1h-1zM549 95h1v1h-1zM555 95h2v1h-2zM574 95h1v1h-1zM576 95h2v1h-2zM592 95h1v1h-1zM596 95h1v1h-1zM600 95h1v1h-1zM614 95h1v1h-1zM621 95h1v1h-1zM632 95h2v1h-2zM637 95h1v1h-1zM640 95h1v1h-1zM501 96h1v1h-1zM529 96h1v1h-1zM536 96h2v1h-2zM550 96h1v1h-1zM553 96h1v1h-1zM555 96h3v1h-3zM561 96h1v1h-1zM565 96h2v1h-2zM568 96h1v1h-1zM570 96h1v1h-1zM585 96h1v1h-1zM587 96h1v1h-1zM597 96h2v1h-2zM604 96h1v1h-1zM606 96h1v1h-1zM613 96h1v1h-1zM632 96h1v1h-1zM634 96h1v1h-1zM638 96h1v1h-1zM644 96h1v1h-1zM506 97h1v1h-1zM520 97h1v1h-1zM522 97h2v1h-2zM543 97h1v1h-1zM545 97h1v1h-1zM550 97h1v1h-1zM559 97h1v1h-1zM565 97h1v1h-1zM567 97h1v1h-1zM571 97h1v1h-1zM573 97h1v1h-1zM587 97h1v1h-1zM594 97h2v1h-2zM620 97h1v1h-1zM622 97h1v1h-1zM633 97h2v1h-2zM636 97h1v1h-1zM644 97h1v1h-1zM498 98h1v1h-1zM500 98h1v1h-1zM508 98h1v1h-1zM510 98h1v1h-1zM515 98h1v1h-1zM522 98h2v1h-2zM526 98h1v1h-1zM537 98h2v1h-2zM544 98h1v1h-1zM547 98h1v1h-1zM567 98h1v1h-1zM595 98h2v1h-2zM608 98h1v1h-1zM617 98h1v1h-1zM625 98h2v1h-2zM629 98h1v1h-1zM637 98h1v1h-1zM640 98h1v1h-1zM642 98h2v1h-2zM500 99h2v1h-2zM504 99h1v1h-1zM511 99h1v1h-1zM530 99h1v1h-1zM541 99h1v1h-1zM543 99h1v1h-1zM545 99h1v1h-1zM548 99h1v1h-1zM557 99h1v1h-1zM562 99h1v1h-1zM566 99h1v1h-1zM580 99h1v1h-1zM600 99h3v1h-3zM604 99h2v1h-2zM608 99h1v1h-1zM610 99h1v1h-1zM619 99h1v1h-1zM623 99h1v1h-1zM626 99h1v1h-1zM628 99h2v1h-2zM631 99h2v1h-2zM640 99h2v1h-2zM484 100h1v1h-1zM493 100h1v1h-1zM496 100h2v1h-2zM502 100h1v1h-1zM504 100h1v1h-1zM507 100h1v1h-1zM513 100h2v1h-2zM529 100h1v1h-1zM531 100h1v1h-1zM539 100h2v1h-2zM542 100h1v1h-1zM545 100h1v1h-1zM547 100h2v1h-2zM552 100h1v1h-1zM555 100h1v1h-1zM558 100h1v1h-1zM568 100h1v1h-1zM570 100h2v1h-2zM580 100h1v1h-1zM588 100h1v1h-1zM590 100h1v1h-1zM594 100h1v1h-1zM596 100h2v1h-2zM621 100h1v1h-1zM646 100h1v1h-1zM649 100h1v1h-1zM484 101h1v1h-1zM488 101h1v1h-1zM506 101h1v1h-1zM520 101h1v1h-1zM522 101h3v1h-3zM536 101h1v1h-1zM553 101h1v1h-1zM562 101h1v1h-1zM566 101h1v1h-1zM580 101h1v1h-1zM588 101h1v1h-1zM594 101h1v1h-1zM617 101h1v1h-1zM634 101h1v1h-1zM638 101h1v1h-1zM646 101h1v1h-1zM480 102h1v1h-1zM482 102h1v1h-1zM491 102h1v1h-1zM499 102h2v1h-2zM502 102h1v1h-1zM505 102h1v1h-1zM513 102h1v1h-1zM519 102h2v1h-2zM532 102h1v1h-1zM540 102h1v1h-1zM546 102h1v1h-1zM556 102h1v1h-1zM565 102h4v1h-4zM571 102h1v1h-1zM574 102h1v1h-1zM581 102h1v1h-1zM587 102h1v1h-1zM591 102h2v1h-2zM605 102h1v1h-1zM612 102h1v1h-1zM627 102h2v1h-2zM634 102h2v1h-2zM640 102h1v1h-1zM642 102h2v1h-2zM647 102h2v1h-2zM652 102h1v1h-1zM485 103h1v1h-1zM504 103h1v1h-1zM519 103h1v1h-1zM529 103h1v1h-1zM531 103h1v1h-1zM538 103h1v1h-1zM560 103h1v1h-1zM572 103h2v1h-2zM576 103h1v1h-1zM582 103h1v1h-1zM592 103h1v1h-1zM614 103h1v1h-1zM616 103h1v1h-1zM623 103h5v1h-5zM629 103h1v1h-1zM631 103h1v1h-1zM635 103h1v1h-1zM639 103h1v1h-1zM641 103h1v1h-1zM648 103h2v1h-2zM651 103h1v1h-1zM653 103h1v1h-1zM486 104h1v1h-1zM492 104h1v1h-1zM502 104h1v1h-1zM505 104h1v1h-1zM513 104h1v1h-1zM539 104h1v1h-1zM551 104h2v1h-2zM563 104h3v1h-3zM569 104h1v1h-1zM571 104h1v1h-1zM577 104h1v1h-1zM589 104h1v1h-1zM609 104h2v1h-2zM613 104h1v1h-1zM618 104h2v1h-2zM623 104h1v1h-1zM627 104h1v1h-1zM636 104h1v1h-1zM640 104h1v1h-1zM482 105h1v1h-1zM484 105h1v1h-1zM488 105h1v1h-1zM497 105h1v1h-1zM502 105h1v1h-1zM531 105h1v1h-1zM536 105h1v1h-1zM539 105h1v1h-1zM555 105h1v1h-1zM567 105h1v1h-1zM572 105h1v1h-1zM579 105h2v1h-2zM610 105h1v1h-1zM623 105h1v1h-1zM635 105h1v1h-1zM639 105h1v1h-1zM651 105h1v1h-1zM475 106h1v1h-1zM478 106h1v1h-1zM485 106h1v1h-1zM499 106h1v1h-1zM507 106h1v1h-1zM510 106h1v1h-1zM512 106h1v1h-1zM515 106h1v1h-1zM532 106h1v1h-1zM539 106h1v1h-1zM551 106h1v1h-1zM553 106h1v1h-1zM568 106h1v1h-1zM570 106h1v1h-1zM581 106h1v1h-1zM613 106h1v1h-1zM616 106h1v1h-1zM620 106h1v1h-1zM622 106h2v1h-2zM625 106h1v1h-1zM634 106h1v1h-1zM637 106h1v1h-1zM646 106h1v1h-1zM654 106h1v1h-1zM483 107h1v1h-1zM485 107h1v1h-1zM489 107h1v1h-1zM491 107h1v1h-1zM497 107h1v1h-1zM501 107h1v1h-1zM514 107h1v1h-1zM517 107h1v1h-1zM530 107h1v1h-1zM532 107h2v1h-2zM540 107h1v1h-1zM566 107h1v1h-1zM578 107h1v1h-1zM592 107h1v1h-1zM595 107h1v1h-1zM622 107h1v1h-1zM644 107h1v1h-1zM646 107h1v1h-1zM652 107h1v1h-1zM657 107h1v1h-1zM477 108h3v1h-3zM485 108h1v1h-1zM506 108h1v1h-1zM512 108h1v1h-1zM526 108h1v1h-1zM543 108h1v1h-1zM561 108h1v1h-1zM569 108h1v1h-1zM577 108h1v1h-1zM582 108h1v1h-1zM585 108h2v1h-2zM590 108h1v1h-1zM592 108h1v1h-1zM616 108h1v1h-1zM643 108h2v1h-2zM648 108h1v1h-1zM657 108h1v1h-1zM473 109h1v1h-1zM494 109h1v1h-1zM497 109h1v1h-1zM510 109h1v1h-1zM514 109h1v1h-1zM531 109h1v1h-1zM538 109h1v1h-1zM553 109h1v1h-1zM556 109h1v1h-1zM598 109h1v1h-1zM602 109h1v1h-1zM629 109h1v1h-1zM661 109h1v1h-1zM481 110h1v1h-1zM491 110h1v1h-1zM496 110h1v1h-1zM509 110h1v1h-1zM538 110h1v1h-1zM542 110h1v1h-1zM545 110h1v1h-1zM548 110h1v1h-1zM572 110h1v1h-1zM579 110h1v1h-1zM586 110h1v1h-1zM591 110h1v1h-1zM596 110h1v1h-1zM598 110h1v1h-1zM607 110h2v1h-2zM614 110h1v1h-1zM617 110h1v1h-1zM647 110h2v1h-2zM653 110h1v1h-1zM658 110h1v1h-1zM662 110h1v1h-1zM475 111h1v1h-1zM522 111h1v1h-1zM541 111h1v1h-1zM554 111h1v1h-1zM570 111h1v1h-1zM586 111h1v1h-1zM594 111h1v1h-1zM597 111h1v1h-1zM602 111h1v1h-1zM605 111h1v1h-1zM607 111h1v1h-1zM612 111h2v1h-2zM487 112h1v1h-1zM494 112h1v1h-1zM537 112h1v1h-1zM564 112h2v1h-2zM567 112h1v1h-1zM576 112h1v1h-1zM593 112h1v1h-1zM599 112h1v1h-1zM621 112h2v1h-2zM625 112h1v1h-1zM628 112h1v1h-1zM631 112h1v1h-1zM648 112h1v1h-1zM657 112h2v1h-2z"/>
<path fill="#ff0000" fill-opacity="0.1" d="M605 68h1v1h-1zM605 69h1v1h-1zM557 73h1v1h-1zM587 73h1v1h-1zM604 73h1v1h-1zM528 74h1v1h-1zM586 74h1v1h-1zM585 76h1v1h-1zM514 77h1v1h-1zM516 79h1v1h-1zM596 79h1v1h-1zM516 80h1v1h-1zM608 80h1v1h-1zM540 81h1v1h-1zM545 81h1v1h-1zM573 81h1v1h-1zM590 81h1v1h-1zM514 82h1v1h-1zM548 82h1v1h-1zM573 82h1v1h-1zM601 83h1v1h-1zM539 84h1v1h-1zM581 84h1v1h-1zM505 85h1v1h-1zM528 85h1v1h-1zM579 85h1v1h-1zM625 85h1v1h-1zM528 86h1v1h-1zM543 86h1v1h-1zM518 87h1v1h-1zM520 87h1v1h-1zM555 87h1v1h-1zM588 87h1v1h-1zM543 88h1v1h-1zM588 88h1v1h-1zM500 89h1v1h-1zM539 89h1v1h-1zM547 89h1v1h-1zM550 89h1v1h-1zM576 89h1v1h-1zM578 89h2v1h-2zM497 90h1v1h-1zM534 90h1v1h-1zM551 90h1v1h-1zM574 90h2v1h-2zM588 90h1v1h-1zM591 90h1v1h-1zM593 90h1v1h-1zM607 90h1v1h-1zM617 90h1v1h-1zM624 90h1v1h-1zM634 90h1v1h-1zM527 91h1v1h-1zM534 91h1v1h-1zM554 91h2v1h-2zM583 91h1v1h-1zM633 91h1v1h-1zM524 92h1v1h-1zM527 92h1v1h-1zM529 92h1v1h-1zM542 92h1v1h-1zM567 92h1v1h-1zM586 92h1v1h-1zM600 92h1v1h-1zM493 93h1v1h-1zM506 93h2v1h-2zM534 93h1v1h-1zM538 93h1v1h-1zM557 93h1v1h-1zM576 93h1v1h-1zM623 93h1v1h-1zM501 94h1v1h-1zM555 94h1v1h-1zM576 94h1v1h-1zM580 94h2v1h-2zM587 94h1v1h-1zM617 94h1v1h-1zM622 94h1v1h-1zM635 94h1v1h-1zM499 95h1v1h-1zM501 95h1v1h-1zM508 95h1v1h-1zM518 95h1v1h-1zM545 95h1v1h-1zM552 95h1v1h-1zM570 95h1v1h-1zM578 95h1v1h-1zM582 95h1v1h-1zM588 95h2v1h-2zM602 95h1v1h-1zM608 95h1v1h-1zM616 95h1v1h-1zM497 96h1v1h-1zM505 96h1v1h-1zM513 96h2v1h-2zM528 96h1v1h-1zM544 96h1v1h-1zM549 96h1v1h-1zM569 96h1v1h-1zM582 96h1v1h-1zM584 96h1v1h-1zM601 96h1v1h-1zM617 96h1v1h-1zM633 96h1v1h-1zM512 97h1v1h-1zM525 97h1v1h-1zM558 97h1v1h-1zM569 97h1v1h-1zM577 97h1v1h-1zM586 97h1v1h-1zM601 97h1v1h-1zM605 97h1v1h-1zM607 97h1v1h-1zM613 97h1v1h-1zM629 97h1v1h-1zM506 98h1v1h-1zM516 98h1v1h-1zM519 98h1v1h-1zM527 98h1v1h-1zM529 98h1v1h-1zM540 98h1v1h-1zM588 98h1v1h-1zM606 98h1v1h-1zM631 98h1v1h-1zM634 98h1v1h-1zM644 98h1v1h-1zM507 99h1v1h-1zM520 99h1v1h-1zM523 99h1v1h-1zM549 99h1v1h-1zM551 99h1v1h-1zM572 99h1v1h-1zM597 99h1v1h-1zM624 99h1v1h-1zM643 99h1v1h-1zM647 99h1v1h-1zM485 100h1v1h-1zM510 100h2v1h-2zM525 100h1v1h-1zM574 100h1v1h-1zM593 100h1v1h-1zM595 100h1v1h-1zM620 100h1v1h-1zM637 100h2v1h-2zM485 101h1v1h-1zM489 101h1v1h-1zM492 101h1v1h-1zM507 101h1v1h-1zM526 101h1v1h-1zM539 101h1v1h-1zM548 101h1v1h-1zM552 101h1v1h-1zM557 101h1v1h-1zM560 101h1v1h-1zM563 101h2v1h-2zM575 101h1v1h-1zM578 101h1v1h-1zM621 101h1v1h-1zM625 101h1v1h-1zM647 101h1v1h-1zM494 102h1v1h-1zM512 102h1v1h-1zM523 102h3v1h-3zM527 102h1v1h-1zM535 102h1v1h-1zM541 102h1v1h-1zM555 102h1v1h-1zM572 102h1v1h-1zM601 102h1v1h-1zM604 102h1v1h-1zM609 102h1v1h-1zM651 102h1v1h-1zM490 103h2v1h-2zM496 103h1v1h-1zM512 103h1v1h-1zM514 103h1v1h-1zM518 103h1v1h-1zM540 103h1v1h-1zM547 103h1v1h-1zM550 103h2v1h-2zM567 103h1v1h-1zM584 103h1v1h-1zM588 103h1v1h-1zM596 103h1v1h-1zM604 103h1v1h-1zM617 103h1v1h-1zM628 103h1v1h-1zM638 103h1v1h-1zM652 103h1v1h-1zM484 104h1v1h-1zM490 104h1v1h-1zM500 104h1v1h-1zM512 104h1v1h-1zM528 104h1v1h-1zM530 104h1v1h-1zM556 104h1v1h-1zM560 104h1v1h-1zM568 104h1v1h-1zM575 104h1v1h-1zM590 104h1v1h-1zM592 104h1v1h-1zM600 104h1v1h-1zM626 104h1v1h-1zM642 104h1v1h-1zM492 105h2v1h-2zM504 105h1v1h-1zM507 105h1v1h-1zM510 105h2v1h-2zM519 105h2v1h-2zM522 105h1v1h-1zM526 105h1v1h-1zM529 105h1v1h-1zM540 105h1v1h-1zM545 105h1v1h-1zM550 105h1v1h-1zM596 105h2v1h-2zM605 105h3v1h-3zM611 105h1v1h-1zM620 105h1v1h-1zM631 105h2v1h-2zM477 106h1v1h-1zM486 106h1v1h-1zM509 106h1v1h-1zM523 106h1v1h-1zM544 106h1v1h-1zM555 106h1v1h-1zM585 106h1v1h-1zM591 106h1v1h-1zM614 106h1v1h-1zM621 106h1v1h-1zM636 106h1v1h-1zM643 106h1v1h-1zM653 106h1v1h-1zM655 106h1v1h-1zM478 107h1v1h-1zM482 107h1v1h-1zM488 107h1v1h-1zM506 107h2v1h-2zM521 107h1v1h-1zM524 107h1v1h-1zM536 107h1v1h-1zM543 107h1v1h-1zM568 107h2v1h-2zM582 107h1v1h-1zM598 107h1v1h-1zM600 107h1v1h-1zM621 107h1v1h-1zM641 107h1v1h-1zM647 107h1v1h-1zM658 107h1v1h-1zM489 108h1v1h-1zM500 108h1v1h-1zM503 108h1v1h-1zM508 108h1v1h-1zM516 108h1v1h-1zM541 108h1v1h-1zM544 108h1v1h-1zM547 108h1v1h-1zM553 108h1v1h-1zM556 108h2v1h-2zM576 108h1v1h-1zM591 108h1v1h-1zM605 108h1v1h-1zM610 108h1v1h-1zM627 108h1v1h-1zM649 108h2v1h-2zM652 108h1v1h-1zM656 108h1v1h-1zM659 108h1v1h-1zM479 109h1v1h-1zM484 109h1v1h-1zM486 109h1v1h-1zM489 109h1v1h-1zM493 109h1v1h-1zM502 109h2v1h-2zM532 109h1v1h-1zM540 109h1v1h-1zM563 109h1v1h-1zM565 109h2v1h-2zM572 109h1v1h-1zM589 109h1v1h-1zM601 109h1v1h-1zM603 109h1v1h-1zM617 109h1v1h-1zM620 109h2v1h-2zM623 109h1v1h-1zM625 109h1v1h-1zM656 109h1v1h-1zM474 110h1v1h-1zM489 110h1v1h-1zM498 110h1v1h-1zM502 110h1v1h-1zM512 110h2v1h-2zM524 110h2v1h-2zM552 110h1v1h-1zM559 110h1v1h-1zM562 110h1v1h-1zM581 110h1v1h-1zM587 110h1v1h-1zM589 110h1v1h-1zM622 110h1v1h-1zM625 110h1v1h-1zM627 110h1v1h-1zM484 111h1v1h-1zM521 111h1v1h-1zM557 111h3v1h-3zM569 111h1v1h-1zM581 111h1v1h-1zM583 111h1v1h-1zM589 111h1v1h-1zM627 111h1v1h-1zM654 111h1v1h-1zM492 112h2v1h-2zM516 112h1v1h-1zM519 112h1v1h-1zM531 112h1v1h-1zM545 112h1v1h-1zM552 112h1v1h-1zM568 112h2v1h-2zM573 112h1v1h-1zM575 112h1v1h-1zM585 112h1v1h-1zM590 112h1v1h-1zM641 112h1v1h-1zM659 112h1v1h-1zM662 112h1v1h-1z"/>
<path fill="#ff0000" fill-opacity="0.16" d="M533 81h1v1h-1zM618 82h1v1h-1zM625 83h1v1h-1zM552 87h1v1h-1zM579 87h1v1h-1zM628 87h1v1h-1zM570 89h1v1h-1zM570 90h1v1h-1zM586 91h1v1h-1zM507 92h1v1h-1zM563 92h1v1h-1zM629 92h1v1h-1zM566 93h1v1h-1zM517 94h2v1h-2zM526 94h1v1h-1zM540 94h1v1h-1zM550 94h1v1h-1zM575 94h1v1h-1zM600 94h1v1h-1zM506 95h1v1h-1zM527 95h1v1h-1zM558 95h1v1h-1zM571 95h1v1h-1zM575 95h1v1h-1zM601 95h1v1h-1zM522 96h1v1h-1zM571 96h1v1h-1zM625 96h1v1h-1zM490 97h1v1h-1zM496 97h1v1h-1zM500 97h1v1h-1zM507 97h1v1h-1zM562 97h1v1h-1zM641 97h1v1h-1zM643 97h1v1h-1zM486 98h1v1h-1zM518 98h1v1h-1zM558 98h1v1h-1zM618 98h1v1h-1zM489 99h2v1h-2zM496 99h1v1h-1zM514 99h1v1h-1zM516 99h1v1h-1zM537 99h1v1h-1zM540 99h1v1h-1zM575 99h1v1h-1zM594 99h1v1h-1zM607 99h1v1h-1zM630 99h1v1h-1zM636 99h1v1h-1zM639 99h1v1h-1zM489 100h1v1h-1zM494 100h1v1h-1zM498 100h1v1h-1zM522 100h1v1h-1zM543 100h1v1h-1zM551 100h1v1h-1zM587 100h1v1h-1zM598 100h1v1h-1zM616 100h1v1h-1zM619 100h1v1h-1zM623 100h2v1h-2zM631 100h1v1h-1zM499 101h1v1h-1zM502 101h1v1h-1zM590 101h1v1h-1zM602 101h1v1h-1zM606 101h2v1h-2zM624 101h1v1h-1zM629 101h1v1h-1zM650 101h1v1h-1zM517 102h2v1h-2zM548 102h1v1h-1zM570 102h1v1h-1zM603 102h1v1h-1zM606 102h1v1h-1zM608 102h1v1h-1zM618 102h1v1h-1zM636 102h1v1h-1zM638 102h1v1h-1zM508 103h1v1h-1zM513 103h1v1h-1zM525 103h1v1h-1zM534 103h1v1h-1zM541 103h1v1h-1zM549 103h1v1h-1zM569 103h1v1h-1zM580 103h1v1h-1zM585 103h1v1h-1zM598 103h1v1h-1zM611 103h1v1h-1zM647 103h1v1h-1zM479 104h1v1h-1zM495 104h3v1h-3zM503 104h1v1h-1zM510 104h2v1h-2zM532 104h1v1h-1zM537 104h1v1h-1zM545 104h1v1h-1zM562 104h1v1h-1zM593 104h2v1h-2zM604 104h1v1h-1zM638 104h1v1h-1zM644 104h1v1h-1zM495 105h1v1h-1zM500 105h1v1h-1zM505 105h1v1h-1zM512 105h1v1h-1zM530 105h1v1h-1zM532 105h1v1h-1zM542 105h1v1h-1zM560 105h1v1h-1zM577 105h1v1h-1zM581 105h2v1h-2zM584 105h1v1h-1zM591 105h1v1h-1zM602 105h1v1h-1zM615 105h1v1h-1zM626 105h1v1h-1zM642 105h1v1h-1zM481 106h1v1h-1zM501 106h1v1h-1zM506 106h1v1h-1zM534 106h1v1h-1zM538 106h1v1h-1zM542 106h2v1h-2zM554 106h1v1h-1zM569 106h1v1h-1zM573 106h2v1h-2zM589 106h1v1h-1zM606 106h1v1h-1zM618 106h1v1h-1zM633 106h1v1h-1zM480 107h1v1h-1zM493 107h1v1h-1zM509 107h2v1h-2zM542 107h1v1h-1zM547 107h1v1h-1zM556 107h1v1h-1zM591 107h1v1h-1zM593 107h1v1h-1zM601 107h1v1h-1zM623 107h1v1h-1zM632 107h1v1h-1zM636 107h1v1h-1zM638 107h1v1h-1zM643 107h1v1h-1zM492 108h1v1h-1zM510 108h1v1h-1zM517 108h2v1h-2zM527 108h1v1h-1zM542 108h1v1h-1zM545 108h1v1h-1zM552 108h1v1h-1zM555 108h1v1h-1zM560 108h1v1h-1zM570 108h1v1h-1zM573 108h1v1h-1zM612 108h1v1h-1zM621 108h1v1h-1zM631 108h1v1h-1zM633 108h1v1h-1zM642 108h1v1h-1zM483 109h1v1h-1zM496 109h1v1h-1zM499 109h1v1h-1zM508 109h2v1h-2zM517 109h1v1h-1zM520 109h1v1h-1zM547 109h3v1h-3zM555 109h1v1h-1zM559 109h2v1h-2zM568 109h1v1h-1zM575 109h1v1h-1zM579 109h3v1h-3zM590 109h2v1h-2zM600 109h1v1h-1zM610 109h1v1h-1zM614 109h1v1h-1zM619 109h1v1h-1zM634 109h2v1h-2zM639 109h1v1h-1zM644 109h1v1h-1zM646 109h3v1h-3zM651 109h2v1h-2zM473 110h1v1h-1zM486 110h1v1h-1zM490 110h1v1h-1zM494 110h1v1h-1zM518 110h1v1h-1zM526 110h1v1h-1zM529 110h1v1h-1zM534 110h2v1h-2zM557 110h1v1h-1zM561 110h1v1h-1zM565 110h1v1h-1zM568 110h1v1h-1zM577 110h1v1h-1zM584 110h1v1h-1zM595 110h1v1h-1zM599 110h1v1h-1zM611 110h1v1h-1zM620 110h1v1h-1zM631 110h1v1h-1zM470 111h1v1h-1zM490 111h1v1h-1zM497 111h1v1h-1zM499 111h1v1h-1zM502 111h1v1h-1zM530 111h1v1h-1zM535 111h1v1h-1zM537 111h1v1h-1zM544 111h1v1h-1zM553 111h1v1h-1zM563 111h1v1h-1zM582 111h1v1h-1zM614 111h1v1h-1zM640 111h1v1h-1zM643 111h1v1h-1zM646 111h1v1h-1zM653 111h1v1h-1zM659 111h1v1h-1zM663 111h1v1h-1zM482 112h1v1h-1zM490 112h2v1h-2zM504 112h1v1h-1zM523 112h1v1h-1zM533 112h1v1h-1zM538 112h1v1h-1zM566 112h1v1h-1zM577 112h1v1h-1zM589 112h1v1h-1zM609 112h1v1h-1zM613 112h2v1h-2zM616 112h2v1h-2zM620 112h1v1h-1zM624 112h1v1h-1z"/>
<path fill="#ff0000" fill-opacity="0.24" d="M635 89h1v1h-1zM545 90h1v1h-1zM631 92h1v1h-1zM570 93h1v1h-1zM517 96h1v1h-1zM575 96h1v1h-1zM536 98h1v1h-1zM554 98h1v1h-1zM571 99h1v1h-1zM487 100h1v1h-1zM512 100h1v1h-1zM521 100h1v1h-1zM581 100h1v1h-1zM625 100h1v1h-1zM508 101h1v1h-1zM527 101h1v1h-1zM574 101h1v1h-1zM577 101h1v1h-1zM596 101h1v1h-1zM604 101h1v1h-1zM640 101h1v1h-1zM484 102h1v1h-1zM487 102h1v1h-1zM514 102h1v1h-1zM526 102h1v1h-1zM577 102h1v1h-1zM595 102h1v1h-1zM481 103h1v1h-1zM609 103h1v1h-1zM644 103h1v1h-1zM515 104h1v1h-1zM520 104h1v1h-1zM522 104h1v1h-1zM541 104h1v1h-1zM584 104h1v1h-1zM607 104h1v1h-1zM632 104h1v1h-1zM637 104h1v1h-1zM483 105h1v1h-1zM491 105h1v1h-1zM516 105h1v1h-1zM524 105h1v1h-1zM535 105h1v1h-1zM565 105h1v1h-1zM585 105h1v1h-1zM608 105h1v1h-1zM612 105h1v1h-1zM492 106h3v1h-3zM516 106h1v1h-1zM518 106h1v1h-1zM525 106h1v1h-1zM529 106h2v1h-2zM572 106h1v1h-1zM595 106h1v1h-1zM604 106h1v1h-1zM626 106h1v1h-1zM630 106h1v1h-1zM632 106h1v1h-1zM481 107h1v1h-1zM484 107h1v1h-1zM487 107h1v1h-1zM516 107h1v1h-1zM557 107h1v1h-1zM564 107h1v1h-1zM575 107h1v1h-1zM579 107h2v1h-2zM583 107h1v1h-1zM588 107h1v1h-1zM614 107h1v1h-1zM628 107h1v1h-1zM496 108h2v1h-2zM501 108h1v1h-1zM509 108h1v1h-1zM521 108h1v1h-1zM562 108h1v1h-1zM580 108h1v1h-1zM583 108h1v1h-1zM613 108h1v1h-1zM634 108h2v1h-2zM474 109h1v1h-1zM491 109h1v1h-1zM498 109h1v1h-1zM504 109h2v1h-2zM543 109h1v1h-1zM546 109h1v1h-1zM550 109h1v1h-1zM592 109h1v1h-1zM595 109h1v1h-1zM605 109h1v1h-1zM607 109h1v1h-1zM630 109h1v1h-1zM632 109h1v1h-1zM636 109h1v1h-1zM645 109h1v1h-1zM649 109h1v1h-1zM476 110h1v1h-1zM482 110h1v1h-1zM516 110h1v1h-1zM519 110h1v1h-1zM546 110h1v1h-1zM558 110h1v1h-1zM573 110h1v1h-1zM576 110h1v1h-1zM603 110h1v1h-1zM629 110h2v1h-2zM632 110h1v1h-1zM651 110h1v1h-1zM654 110h1v1h-1zM501 111h1v1h-1zM513 111h1v1h-1zM516 111h1v1h-1zM576 111h1v1h-1zM617 111h1v1h-1zM620 111h1v1h-1zM472 112h1v1h-1zM478 112h1v1h-1zM485 112h1v1h-1zM500 112h1v1h-1zM507 112h1v1h-1zM509 112h1v1h-1zM512 112h1v1h-1zM514 112h1v1h-1zM518 112h1v1h-1zM520 112h1v1h-1zM529 112h1v1h-1zM532 112h1v1h-1zM554 112h1v1h-1zM579 112h1v1h-1zM626 112h1v1h-1zM664 112h1v1h-1z"/>
<path fill="#ff0000" fill-opacity="0.34" d="M517 97h1v1h-1zM524 97h1v1h-1zM579 100h1v1h-1zM605 100h1v1h-1zM608 101h1v1h-1zM596 102h1v1h-1zM602 102h1v1h-1zM536 103h1v1h-1zM608 104h1v1h-1zM518 105h1v1h-1zM561 105h1v1h-1zM595 105h1v1h-1zM599 105h1v1h-1zM644 105h1v1h-1zM519 106h1v1h-1zM564 106h1v1h-1zM588 106h1v1h-1zM619 106h1v1h-1zM624 106h1v1h-1zM639 106h1v1h-1zM534 107h1v1h-1zM555 107h1v1h-1zM573 107h1v1h-1zM585 107h1v1h-1zM589 107h1v1h-1zM611 107h1v1h-1zM620 107h1v1h-1zM650 107h1v1h-1zM472 108h1v1h-1zM498 108h1v1h-1zM522 108h1v1h-1zM530 108h1v1h-1zM533 108h1v1h-1zM537 108h1v1h-1zM546 108h1v1h-1zM594 108h1v1h-1zM597 108h1v1h-1zM624 108h1v1h-1zM639 108h1v1h-1zM654 108h1v1h-1zM518 109h1v1h-1zM529 109h1v1h-1zM533 109h1v1h-1zM570 109h1v1h-1zM582 109h1v1h-1zM584 109h2v1h-2zM613 109h1v1h-1zM624 109h1v1h-1zM631 109h1v1h-1zM654 109h1v1h-1zM470 110h1v1h-1zM478 110h2v1h-2zM504 110h1v1h-1zM507 110h1v1h-1zM517 110h1v1h-1zM533 110h1v1h-1zM550 110h1v1h-1zM567 110h1v1h-1zM593 110h1v1h-1zM612 110h1v1h-1zM637 110h1v1h-1zM639 110h1v1h-1zM649 110h1v1h-1zM469 111h1v1h-1zM477 111h1v1h-1zM486 111h1v1h-1zM489 111h1v1h-1zM510 111h1v1h-1zM518 111h1v1h-1zM528 111h1v1h-1zM532 111h1v1h-1zM552 111h1v1h-1zM568 111h1v1h-1zM572 111h1v1h-1zM588 111h1v1h-1zM593 111h1v1h-1zM616 111h1v1h-1zM619 111h1v1h-1zM628 111h1v1h-1zM524 112h1v1h-1zM548 112h1v1h-1zM563 112h1v1h-1zM586 112h1v1h-1zM651 112h1v1h-1zM660 112h2v1h-2z"/>
<path fill="#ff0000" fill-opacity="0.46" d="M639 101h1v1h-1zM533 103h1v1h-1zM599 103h1v1h-1zM597 104h2v1h-2zM598 105h1v1h-1zM505 106h1v1h-1zM603 106h1v1h-1zM645 106h1v1h-1zM499 107h1v1h-1zM512 107h1v1h-1zM520 107h1v1h-1zM523 107h1v1h-1zM531 107h1v1h-1zM565 107h1v1h-1zM604 107h1v1h-1zM609 107h1v1h-1zM476 108h1v1h-1zM482 108h1v1h-1zM486 108h1v1h-1zM540 108h1v1h-1zM554 108h1v1h-1zM603 108h1v1h-1zM608 108h1v1h-1zM625 108h1v1h-1zM637 108h1v1h-1zM476 109h1v1h-1zM500 109h1v1h-1zM525 109h1v1h-1zM545 109h1v1h-1zM577 109h1v1h-1zM471 110h2v1h-2zM477 110h1v1h-1zM484 110h1v1h-1zM493 110h1v1h-1zM500 110h1v1h-1zM583 110h1v1h-1zM597 110h1v1h-1zM638 110h1v1h-1zM645 110h1v1h-1zM652 110h1v1h-1zM505 111h1v1h-1zM517 111h1v1h-1zM546 111h1v1h-1zM550 111h1v1h-1zM555 111h1v1h-1zM579 111h1v1h-1zM645 111h1v1h-1zM468 112h1v1h-1zM476 112h1v1h-1zM511 112h1v1h-1zM515 112h1v1h-1zM522 112h1v1h-1zM525 112h1v1h-1zM528 112h1v1h-1zM540 112h1v1h-1zM553 112h1v1h-1zM591 112h1v1h-1zM595 112h1v1h-1zM600 112h2v1h-2zM604 112h1v1h-1zM623 112h1v1h-1zM630 112h1v1h-1zM649 112h1v1h-1z"/>
<path fill="#ff0000" fill-opacity="0.62" d="M534 105h1v1h-1zM634 105h1v1h-1zM640 107h1v1h-1zM505 108h1v1h-1zM548 108h1v1h-1zM598 108h1v1h-1zM600 108h1v1h-1zM607 108h1v1h-1zM551 109h1v1h-1zM578 109h1v1h-1zM597 109h1v1h-1zM657 109h1v1h-1zM537 110h1v1h-1zM556 110h1v1h-1zM604 110h1v1h-1zM640 110h1v1h-1zM481 111h1v1h-1zM498 111h1v1h-1zM503 111h1v1h-1zM529 111h1v1h-1zM531 111h1v1h-1zM534 111h1v1h-1zM566 111h1v1h-1zM573 111h1v1h-1zM596 111h1v1h-1zM600 111h1v1h-1zM625 111h1v1h-1zM629 111h1v1h-1zM631 111h1v1h-1zM655 111h1v1h-1zM477 112h1v1h-1zM501 112h1v1h-1zM510 112h1v1h-1zM517 112h1v1h-1zM544 112h1v1h-1zM546 112h1v1h-1zM584 112h1v1h-1zM598 112h1v1h-1zM607 112h1v1h-1zM611 112h1v1h-1zM615 112h1v1h-1zM654 112h1v1h-1z"/>
<path fill="#ff0000" fill-opacity="0.85" d="M605 101h1v1h-1zM599 104h1v1h-1zM593 106h1v1h-1zM599 106h1v1h-1zM658 108h1v1h-1zM485 109h1v1h-1zM511 109h1v1h-1zM628 109h1v1h-1zM485 110h1v1h-1zM532 110h1v1h-1zM539 110h1v1h-1zM661 110h1v1h-1zM480 111h1v1h-1zM507 111h1v1h-1zM519 111h1v1h-1zM533 111h1v1h-1zM542 111h1v1h-1zM556 111h1v1h-1zM578 111h1v1h-1zM610 111h1v1h-1zM636 111h1v1h-1zM661 111h1v1h-1zM479 112h1v1h-1zM481 112h1v1h-1zM534 112h2v1h-2zM547 112h1v1h-1zM578 112h1v1h-1zM587 112h1v1h-1zM597 112h1v1h-1zM610 112h1v1h-1zM632 112h1v1h-1zM636 112h1v1h-1zM638 112h1v1h-1zM640 112h1v1h-1zM644 112h1v1h-1zM646 112h1v1h-1z"/>
<path fill="#ff0000" fill-opacity="0.05" d="M564 46h2v2h-2zM540 56h2v2h-2zM576 56h2v2h-2zM556 58h4v2h-4zM555 60h4v2h-4zM593 60h2v2h-2zM535 62h2v2h-2zM533 64h2v2h-2zM571 64h2v2h-2zM601 64h2v2h-2zM540 68h2v2h-2zM588 68h2v2h-2zM555 70h2v2h-2zM527 72h2v2h-2zM585 72h2v2h-2zM585 74h2v2h-2zM597 74h4v2h-4zM594 76h2v2h-2zM548 78h2v2h-2zM518 80h2v2h-2zM576 80h2v2h-2zM612 80h2v2h-2zM517 82h2v2h-2zM553 84h2v2h-2zM585 84h2v2h-2zM504 86h2v2h-2zM526 86h2v2h-2zM556 86h2v2h-2zM594 88h2v2h-2zM594 90h2v2h-2zM598 90h2v2h-2zM632 90h2v2h-2zM551 92h2v2h-2zM605 92h2v2h-2zM609 92h2v2h-2zM615 92h2v2h-2zM623 92h2v2h-2zM633 92h2v2h-2zM569 94h2v2h-2zM583 94h2v2h-2zM523 96h2v2h-2zM551 96h2v2h-2zM603 96h2v2h-2zM530 98h2v2h-2zM552 98h2v2h-2zM556 98h2v2h-2zM482 100h2v2h-2zM500 100h2v2h-2zM606 100h4v2h-4zM551 102h2v2h-2zM601 102h2v2h-2zM535 104h2v2h-2zM543 104h2v2h-2zM581 104h2v2h-2zM593 104h2v2h-2zM597 104h2v2h-2zM641 104h2v2h-2zM475 106h2v2h-2zM507 106h2v2h-2zM551 106h2v2h-2zM528 108h2v2h-2zM532 108h2v2h-2zM590 108h2v2h-2zM626 108h2v2h-2zM484 110h2v2h-2zM548 110h2v2h-2zM598 110h2v2h-2zM638 110h2v2h-2zM646 110h2v2h-2zM531 112h2v2h-2zM587 112h2v2h-2zM613 112h2v2h-2zM639 112h2v2h-2z"/>
<path fill="#ff0000" fill-opacity="0.1" d="M570 58h2v2h-2zM543 62h2v2h-2zM561 62h2v2h-2zM553 64h2v2h-2zM537 72h2v2h-2zM554 76h2v2h-2zM546 78h2v2h-2zM610 78h2v2h-2zM562 80h2v2h-2zM551 82h2v2h-2zM607 82h2v2h-2zM543 84h2v2h-2zM613 84h2v2h-2zM604 86h2v2h-2zM632 88h4v2h-4zM614 90h2v2h-2zM533 92h2v2h-2zM545 92h2v2h-2zM527 96h2v2h-2zM605 96h2v2h-2zM640 100h2v2h-2zM495 102h2v2h-2zM605 102h2v2h-2zM645 102h2v2h-2zM495 104h2v2h-2zM531 104h2v2h-2zM539 104h2v2h-2zM649 104h2v2h-2zM641 106h2v2h-2zM522 108h2v2h-2zM500 110h2v2h-2zM518 110h2v2h-2zM551 112h2v2h-2zM607 112h2v2h-2z"/>
<path fill="#ff0000" fill-opacity="0.16" d="M528 78h2v2h-2zM600 78h2v2h-2zM604 78h2v2h-2zM557 82h2v2h-2zM511 84h2v2h-2zM597 84h2v2h-2zM562 86h2v2h-2zM604 90h2v2h-2zM577 92h2v2h-2zM607 92h2v2h-2zM613 92h2v2h-2zM505 94h2v2h-2zM585 94h2v2h-2zM579 96h2v2h-2zM518 98h2v2h-2zM534 98h2v2h-2zM516 100h2v2h-2zM501 102h2v2h-2zM647 102h2v2h-2zM509 104h2v2h-2zM533 104h2v2h-2zM583 104h2v2h-2zM561 106h2v2h-2zM637 106h2v2h-2zM650 108h2v2h-2zM512 110h2v2h-2zM556 110h2v2h-2zM610 110h2v2h-2zM654 110h2v2h-2zM481 112h2v2h-2zM511 112h2v2h-2zM579 112h2v2h-2zM583 112h4v2h-4zM589 112h2v2h-2z"/>
<path fill="#ff0000" fill-opacity="0.24" d="M525 84h2v2h-2zM607 84h2v2h-2zM534 86h2v2h-2zM582 86h2v2h-2zM556 90h2v2h-2zM619 94h2v2h-2zM639 94h2v2h-2zM519 96h2v2h-2zM504 98h2v2h-2zM585 102h2v2h-2zM617 102h2v2h-2zM605 104h2v2h-2zM523 106h2v2h-2zM474 108h2v2h-2zM494 108h2v2h-2zM534 108h2v2h-2zM584 108h2v2h-2zM474 110h2v2h-2zM502 110h2v2h-2zM612 110h2v2h-2zM616 110h2v2h-2zM473 112h2v2h-2zM489 112h2v2h-2z"/>
<path fill="#ff0000" fill-opacity="0.34" d="M632 98h2v2h-2zM511 106h2v2h-2zM510 108h2v2h-2zM558 108h2v2h-2zM620 108h2v2h-2zM654 108h2v2h-2zM636 110h2v2h-2z"/>
<path fill="#ff0000" fill-opacity="0.46" d="M634 100h4v2h-4zM517 102h2v2h-2zM611 102h2v2h-2zM490 108h2v2h-2zM536 110h2v2h-2zM658 110h2v2h-2zM487 112h2v2h-2zM497 112h2v2h-2z"/>
<path fill="#ff0000" fill-opacity="0.62" d="M617 112h2v2h-2z"/>
<path fill="#ff0000" fill-opacity="0.85" d="M579 104h2v2h-2zM599 106h2v2h-2zM611 106h2v2h-2zM600 110h2v2h-2z"/>
<path fill="#ff0000" fill-opacity="0.9" d="M467 112.3h1v1.7h-1zM470 112.3h1v1.7h-1zM473 112.3h1v1.7h-1zM474 112.3h1v1.7h-1zM475 112.3h1v1.7h-1zM482 112.3h1v1.7h-1zM483 112.3h1v1.7h-1zM484 112.3h1v1.7h-1zM488 112.3h1v1.7h-1zM498 112.3h1v1.7h-1zM505 112.3h1v1.7h-1zM508 112.3h1v1.7h-1zM518 112.3h1v1.7h-1zM519 112.3h1v1.7h-1zM522 112.3h1v1.7h-1zM523 112.3h1v1.7h-1zM527 112.3h1v1.7h-1zM531 112.3h1v1.7h-1zM533 112.3h1v1.7h-1zM534 112.3h1v1.7h-1zM541 112.3h1v1.7h-1zM543 112.3h1v1.7h-1zM544 112.3h1v1.7h-1zM550 112.3h1v1.7h-1zM552 112.3h1v1.7h-1zM555 112.3h1v1.7h-1zM560 112.3h1v1.7h-1zM567 112.3h1v1.7h-1zM571 112.3h1v1.7h-1zM574 112.3h1v1.7h-1zM575 112.3h1v1.7h-1zM578 112.3h1v1.7h-1zM589 112.3h1v1.7h-1zM590 112.3h1v1.7h-1zM592 112.3h1v1.7h-1zM593 112.3h1v1.7h-1zM596 112.3h1v1.7h-1zM598 112.3h1v1.7h-1zM599 112.3h1v1.7h-1zM608 112.3h1v1.7h-1zM618 112.3h1v1.7h-1zM620 112.3h1v1.7h-1zM622 112.3h1v1.7h-1zM624 112.3h1v1.7h-1zM625 112.3h1v1.7h-1zM626 112.3h1v1.7h-1zM629 112.3h1v1.7h-1zM630 112.3h1v1.7h-1zM631 112.3h1v1.7h-1zM633 112.3h1v1.7h-1zM635 112.3h1v1.7h-1zM636 112.3h1v1.7h-1zM638 112.3h1v1.7h-1zM640 112.3h1v1.7h-1zM643 112.3h1v1.7h-1zM645 112.3h1v1.7h-1zM649 112.3h1v1.7h-1zM650 112.3h1v1.7h-1zM652 112.3h1v1.7h-1zM653 112.3h1v1.7h-1zM658 112.3h1v1.7h-1zM660 112.3h1v1.7h-1zM661 112.3h1v1.7h-1zM664 112.3h1v1.7h-1zM665 112.3h1v1.7h-1zM666 112.3h1v1.7h-1z"/>
<path fill="#ff0000" fill-opacity="0.75" d="M468 112.3h1v1.7h-1zM476 112.3h1v1.7h-1zM481 112.3h1v1.7h-1zM489 112.3h1v1.7h-1zM493 112.3h1v1.7h-1zM497 112.3h1v1.7h-1zM500 112.3h1v1.7h-1zM509 112.3h1v1.7h-1zM516 112.3h1v1.7h-1zM521 112.3h1v1.7h-1zM528 112.3h1v1.7h-1zM530 112.3h1v1.7h-1zM536 112.3h1v1.7h-1zM537 112.3h1v1.7h-1zM545 112.3h1v1.7h-1zM551 112.3h1v1.7h-1zM556 112.3h1v1.7h-1zM558 112.3h1v1.7h-1zM559 112.3h1v1.7h-1zM562 112.3h1v1.7h-1zM573 112.3h1v1.7h-1zM580 112.3h1v1.7h-1zM597 112.3h1v1.7h-1zM600 112.3h1v1.7h-1zM609 112.3h1v1.7h-1zM621 112.3h1v1.7h-1zM639 112.3h1v1.7h-1zM641 112.3h1v1.7h-1zM654 112.3h1v1.7h-1zM663 112.3h1v1.7h-1z"/>
<path fill="#ff0000" fill-opacity="0.55" d="M469 112.3h1v1.7h-1zM471 112.3h1v1.7h-1zM480 112.3h1v1.7h-1zM485 112.3h1v1.7h-1zM486 112.3h1v1.7h-1zM487 112.3h1v1.7h-1zM490 112.3h1v1.7h-1zM491 112.3h1v1.7h-1zM494 112.3h1v1.7h-1zM495 112.3h1v1.7h-1zM499 112.3h1v1.7h-1zM502 112.3h1v1.7h-1zM507 112.3h1v1.7h-1zM513 112.3h1v1.7h-1zM514 112.3h1v1.7h-1zM524 112.3h1v1.7h-1zM525 112.3h1v1.7h-1zM529 112.3h1v1.7h-1zM539 112.3h1v1.7h-1zM542 112.3h1v1.7h-1zM547 112.3h1v1.7h-1zM554 112.3h1v1.7h-1zM557 112.3h1v1.7h-1zM569 112.3h1v1.7h-1zM576 112.3h1v1.7h-1zM577 112.3h1v1.7h-1zM587 112.3h1v1.7h-1zM601 112.3h1v1.7h-1zM602 112.3h1v1.7h-1zM604 112.3h1v1.7h-1zM605 112.3h1v1.7h-1zM607 112.3h1v1.7h-1zM623 112.3h1v1.7h-1zM627 112.3h1v1.7h-1zM632 112.3h1v1.7h-1zM642 112.3h1v1.7h-1zM647 112.3h1v1.7h-1zM657 112.3h1v1.7h-1zM659 112.3h1v1.7h-1z"/>
<path fill="#ff0000" fill-opacity="1.0" d="M472 112.3h1v1.7h-1zM478 112.3h1v1.7h-1zM492 112.3h1v1.7h-1zM496 112.3h1v1.7h-1zM501 112.3h1v1.7h-1zM504 112.3h1v1.7h-1zM506 112.3h1v1.7h-1zM510 112.3h1v1.7h-1zM512 112.3h1v1.7h-1zM515 112.3h1v1.7h-1zM517 112.3h1v1.7h-1zM532 112.3h1v1.7h-1zM538 112.3h1v1.7h-1zM546 112.3h1v1.7h-1zM549 112.3h1v1.7h-1zM553 112.3h1v1.7h-1zM561 112.3h1v1.7h-1zM563 112.3h1v1.7h-1zM564 112.3h1v1.7h-1zM566 112.3h1v1.7h-1zM568 112.3h1v1.7h-1zM570 112.3h1v1.7h-1zM579 112.3h1v1.7h-1zM582 112.3h1v1.7h-1zM584 112.3h1v1.7h-1zM586 112.3h1v1.7h-1zM595 112.3h1v1.7h-1zM606 112.3h1v1.7h-1zM611 112.3h1v1.7h-1zM634 112.3h1v1.7h-1zM644 112.3h1v1.7h-1zM646 112.3h1v1.7h-1zM651 112.3h1v1.7h-1zM662 112.3h1v1.7h-1zM667 112.3h1v1.7h-1z"/>
<polyline points="466.2,284 566.9,362 667.6,284" fill="none" stroke="#efe3e3" stroke-width="0.7"/>
<path fill="#ff0000" fill-opacity="0.05" d="M589 284h2v2h-2zM603 284h2v2h-2zM617 284h2v2h-2zM643 284h2v2h-2zM501 286h2v2h-2zM535 286h2v2h-2zM639 286h2v2h-2zM559 288h6v2h-6zM609 288h2v2h-2zM617 288h2v2h-2zM482 290h2v2h-2zM496 290h2v2h-2zM550 290h2v2h-2zM558 290h2v2h-2zM570 290h2v2h-2zM588 290h2v2h-2zM618 290h2v2h-2zM482 292h2v2h-2zM536 292h4v2h-4zM608 292h2v2h-2zM620 292h2v2h-2zM652 292h4v2h-4zM501 294h2v2h-2zM519 294h2v2h-2zM561 294h2v2h-2zM581 294h2v2h-2zM591 294h2v2h-2zM613 294h4v2h-4zM619 294h2v2h-2zM625 294h2v2h-2zM643 294h2v2h-2zM647 294h2v2h-2zM483 296h2v2h-2zM493 296h2v2h-2zM499 296h2v2h-2zM551 296h2v2h-2zM561 296h2v2h-2zM643 296h2v2h-2zM496 298h2v2h-2zM502 298h2v2h-2zM508 298h2v2h-2zM536 298h2v2h-2zM572 298h2v2h-2zM580 298h2v2h-2zM592 298h2v2h-2zM608 298h2v2h-2zM636 298h2v2h-2zM500 300h2v2h-2zM504 300h2v2h-2zM520 300h2v2h-2zM548 300h2v2h-2zM570 300h2v2h-2zM574 300h2v2h-2zM580 300h2v2h-2zM618 300h2v2h-2zM628 300h2v2h-2zM642 300h2v2h-2zM526 302h2v2h-2zM530 302h2v2h-2zM536 302h2v2h-2zM544 302h2v2h-2zM562 302h2v2h-2zM572 302h2v2h-2zM580 302h2v2h-2zM586 302h2v2h-2zM592 302h2v2h-2zM608 302h2v2h-2zM628 302h2v2h-2zM499 304h2v2h-2zM505 304h2v2h-2zM525 304h2v2h-2zM545 304h2v2h-2zM555 304h2v2h-2zM561 304h2v2h-2zM569 304h2v2h-2zM625 304h6v2h-6zM633 304h2v2h-2zM511 306h2v2h-2zM517 306h2v2h-2zM549 306h2v2h-2zM555 306h2v2h-2zM561 306h4v2h-4zM581 306h4v2h-4zM587 306h2v2h-2zM619 306h2v2h-2zM625 306h4v2h-4zM633 306h2v2h-2zM504 308h4v2h-4zM510 308h2v2h-2zM532 308h2v2h-2zM536 308h2v2h-2zM592 308h2v2h-2zM630 308h2v2h-2zM514 310h2v2h-2zM542 310h2v2h-2zM568 310h4v2h-4zM584 310h2v2h-2zM596 310h2v2h-2zM507 312h4v2h-4zM517 312h2v2h-2zM541 312h2v2h-2zM553 312h2v2h-2zM557 312h2v2h-2zM571 312h2v2h-2zM579 312h2v2h-2zM593 312h2v2h-2zM605 312h4v2h-4zM611 312h2v2h-2zM623 312h2v2h-2zM509 314h2v2h-2zM527 314h4v2h-4zM559 314h2v2h-2zM563 314h2v2h-2zM567 314h2v2h-2zM621 314h2v2h-2zM529 316h2v2h-2zM549 316h2v2h-2zM575 316h2v2h-2zM591 316h2v2h-2zM595 316h2v2h-2zM536 318h2v2h-2zM558 318h2v2h-2zM580 318h2v2h-2zM520 320h2v2h-2zM530 320h2v2h-2zM536 320h2v2h-2zM576 320h2v2h-2zM586 320h2v2h-2zM590 320h2v2h-2zM598 320h2v2h-2zM527 322h2v2h-2zM557 322h2v2h-2zM521 324h2v2h-2zM529 324h2v2h-2zM577 324h2v2h-2zM545 326h2v2h-2zM551 326h2v2h-2zM599 326h2v2h-2zM536 328h4v2h-4zM550 328h2v2h-2zM592 328h6v2h-6zM542 330h2v2h-2zM546 330h2v2h-2zM570 330h2v2h-2zM600 330h2v2h-2zM545 332h2v2h-2zM581 332h2v2h-2zM535 334h2v2h-2zM543 334h2v2h-2zM549 334h2v2h-2zM569 334h2v2h-2zM599 334h2v2h-2zM534 336h2v2h-2zM548 336h4v2h-4zM538 338h2v2h-2zM560 338h2v2h-2zM550 340h2v2h-2zM566 340h2v2h-2zM582 340h2v2h-2zM586 340h2v2h-2zM571 342h2v2h-2zM575 342h2v2h-2zM581 342h2v2h-2zM549 344h2v2h-2zM561 344h2v2h-2zM571 344h2v2h-2zM550 346h2v2h-2zM572 346h2v2h-2z"/>
<path fill="#ff0000" fill-opacity="0.1" d="M529 284h2v2h-2zM627 284h2v2h-2zM661 284h2v2h-2zM543 286h2v2h-2zM625 286h2v2h-2zM481 288h4v2h-4zM507 288h2v2h-2zM531 288h2v2h-2zM541 288h2v2h-2zM649 288h4v2h-4zM504 290h2v2h-2zM512 290h2v2h-2zM532 290h4v2h-4zM562 290h2v2h-2zM600 290h2v2h-2zM610 290h2v2h-2zM620 290h2v2h-2zM632 290h2v2h-2zM638 290h2v2h-2zM500 292h2v2h-2zM506 292h2v2h-2zM516 292h2v2h-2zM534 292h2v2h-2zM544 292h2v2h-2zM584 292h2v2h-2zM610 292h2v2h-2zM626 292h4v2h-4zM634 292h2v2h-2zM650 292h2v2h-2zM489 294h2v2h-2zM511 294h2v2h-2zM523 294h2v2h-2zM545 294h2v2h-2zM575 294h2v2h-2zM597 294h2v2h-2zM611 294h2v2h-2zM635 294h2v2h-2zM527 296h2v2h-2zM541 296h2v2h-2zM579 296h2v2h-2zM603 296h2v2h-2zM615 296h2v2h-2zM621 296h2v2h-2zM637 296h2v2h-2zM647 296h2v2h-2zM488 298h2v2h-2zM528 298h2v2h-2zM540 298h6v2h-6zM586 298h2v2h-2zM488 300h2v2h-2zM516 300h2v2h-2zM526 300h2v2h-2zM560 300h2v2h-2zM564 300h2v2h-2zM578 300h2v2h-2zM582 300h2v2h-2zM592 300h4v2h-4zM634 300h2v2h-2zM514 302h2v2h-2zM520 302h2v2h-2zM574 302h4v2h-4zM606 302h2v2h-2zM634 302h2v2h-2zM501 304h2v2h-2zM507 304h2v2h-2zM513 304h2v2h-2zM535 304h2v2h-2zM547 304h2v2h-2zM605 304h2v2h-2zM609 304h2v2h-2zM637 304h2v2h-2zM533 306h2v2h-2zM553 306h2v2h-2zM629 306h2v2h-2zM552 308h2v2h-2zM608 308h2v2h-2zM618 308h2v2h-2zM632 308h2v2h-2zM546 310h2v2h-2zM556 310h2v2h-2zM592 310h2v2h-2zM618 310h2v2h-2zM523 312h2v2h-2zM539 312h2v2h-2zM613 312h2v2h-2zM525 314h2v2h-2zM571 314h2v2h-2zM625 314h2v2h-2zM547 316h2v2h-2zM564 318h2v2h-2zM548 320h2v2h-2zM556 320h2v2h-2zM572 320h2v2h-2zM537 322h2v2h-2zM571 322h2v2h-2zM587 322h2v2h-2zM609 326h2v2h-2zM556 328h2v2h-2zM572 330h2v2h-2zM588 330h2v2h-2zM583 334h2v2h-2zM560 336h2v2h-2zM540 340h2v2h-2zM558 340h2v2h-2zM553 342h2v2h-2zM578 348h2v2h-2z"/>
<path fill="#ff0000" fill-opacity="0.16" d="M543 284h2v2h-2zM581 284h2v2h-2zM645 284h2v2h-2zM485 286h2v2h-2zM513 286h2v2h-2zM523 286h2v2h-2zM565 286h2v2h-2zM571 286h2v2h-2zM611 286h2v2h-2zM627 286h2v2h-2zM489 288h4v2h-4zM547 288h2v2h-2zM565 288h2v2h-2zM579 288h2v2h-2zM593 288h2v2h-2zM619 288h4v2h-4zM657 288h2v2h-2zM488 290h2v2h-2zM508 290h2v2h-2zM540 290h2v2h-2zM566 290h2v2h-2zM574 290h2v2h-2zM594 290h2v2h-2zM484 292h2v2h-2zM490 292h2v2h-2zM508 292h2v2h-2zM520 292h2v2h-2zM562 292h2v2h-2zM578 292h4v2h-4zM598 292h4v2h-4zM618 292h2v2h-2zM646 292h2v2h-2zM579 294h2v2h-2zM587 294h2v2h-2zM651 294h2v2h-2zM489 296h2v2h-2zM521 296h4v2h-4zM545 296h2v2h-2zM591 296h2v2h-2zM617 296h2v2h-2zM627 296h2v2h-2zM532 298h2v2h-2zM558 298h2v2h-2zM570 298h2v2h-2zM574 298h2v2h-2zM626 298h2v2h-2zM550 300h6v2h-6zM590 300h2v2h-2zM600 300h2v2h-2zM604 300h2v2h-2zM638 300h2v2h-2zM508 302h2v2h-2zM522 302h2v2h-2zM611 304h2v2h-2zM535 306h2v2h-2zM567 306h2v2h-2zM613 306h2v2h-2zM621 306h2v2h-2zM532 310h2v2h-2zM540 310h2v2h-2zM597 312h2v2h-2zM537 314h2v2h-2zM579 316h2v2h-2zM566 318h2v2h-2zM578 320h2v2h-2zM610 320h2v2h-2zM548 330h2v2h-2zM578 350h2v2h-2z"/>
<path fill="#ff0000" fill-opacity="0.24" d="M479 284h2v2h-2zM485 284h2v2h-2zM495 284h2v2h-2zM609 284h2v2h-2zM639 284h2v2h-2zM473 286h2v2h-2zM497 286h2v2h-2zM525 286h2v2h-2zM563 286h2v2h-2zM613 286h2v2h-2zM641 286h2v2h-2zM647 286h2v2h-2zM475 288h2v2h-2zM493 288h4v2h-4zM529 288h2v2h-2zM595 288h2v2h-2zM611 288h2v2h-2zM647 288h2v2h-2zM494 290h2v2h-2zM514 290h4v2h-4zM530 290h2v2h-2zM552 290h2v2h-2zM560 290h2v2h-2zM564 290h2v2h-2zM598 290h2v2h-2zM608 290h2v2h-2zM478 292h2v2h-2zM588 292h2v2h-2zM644 292h2v2h-2zM515 294h2v2h-2zM527 294h2v2h-2zM639 294h2v2h-2zM517 296h2v2h-2zM543 296h2v2h-2zM544 300h2v2h-2zM492 302h2v2h-2z"/>
<path fill="#ff0000" fill-opacity="0.34" d="M477 284h2v2h-2zM489 284h2v2h-2zM497 284h2v2h-2zM547 284h2v2h-2zM599 284h2v2h-2zM607 284h2v2h-2zM613 284h2v2h-2zM647 284h2v2h-2zM657 284h2v2h-2zM507 286h2v2h-2zM517 286h2v2h-2zM541 286h2v2h-2zM555 286h2v2h-2zM559 286h2v2h-2zM575 286h2v2h-2zM661 286h2v2h-2zM473 288h2v2h-2zM509 288h2v2h-2zM545 288h2v2h-2zM549 288h2v2h-2zM571 288h4v2h-4zM518 290h2v2h-2zM544 290h2v2h-2zM606 290h2v2h-2zM492 292h2v2h-2zM496 292h4v2h-4zM568 292h2v2h-2zM612 292h2v2h-2zM503 294h2v2h-2zM565 294h2v2h-2zM599 294h2v2h-2zM487 296h2v2h-2zM509 296h2v2h-2zM555 296h2v2h-2z"/>
<path fill="#ff0000" fill-opacity="0.46" d="M473 284h2v2h-2zM531 284h2v2h-2zM555 284h2v2h-2zM633 284h2v2h-2zM511 286h2v2h-2zM531 286h2v2h-2zM633 286h2v2h-2zM657 286h2v2h-2zM555 288h2v2h-2zM650 290h2v2h-2zM574 292h2v2h-2zM603 294h2v2h-2zM486 298h2v2h-2z"/>
<path fill="#ff0000" fill-opacity="0.62" d="M501 284h2v2h-2zM527 284h2v2h-2zM553 284h2v2h-2zM577 284h2v2h-2zM601 284h2v2h-2zM641 284h2v2h-2zM663 284h2v2h-2zM499 286h2v2h-2zM515 286h2v2h-2zM557 286h2v2h-2zM603 286h2v2h-2zM655 286h2v2h-2zM533 288h2v2h-2zM605 288h2v2h-2zM520 290h2v2h-2zM526 290h2v2h-2z"/>
<path fill="#ff0000" fill-opacity="0.85" d="M511 284h2v2h-2zM523 284h2v2h-2zM533 284h4v2h-4zM551 284h2v2h-2zM561 284h2v2h-2zM583 284h2v2h-2zM605 284h2v2h-2zM611 284h2v2h-2zM475 286h2v2h-2zM577 286h2v2h-2zM637 286h2v2h-2zM645 286h2v2h-2zM501 288h2v2h-2zM581 288h2v2h-2zM643 288h2v2h-2zM596 290h2v2h-2zM602 292h2v2h-2zM640 292h2v2h-2zM641 296h2v2h-2z"/>
<path fill="#ff0000" fill-opacity="0.65" d="M467 284.1h1v1.5h-1zM475 284.1h1v1.8h-1zM476 284.1h1v1.8h-1zM493 284.1h1v1.2h-1zM494 284.1h1v1.2h-1zM496 284.1h1v2h-1zM500 284.1h1v1.5h-1zM504 284.1h1v1.8h-1zM510 284.1h1v1.5h-1zM524 284.1h1v1.2h-1zM527 284.1h1v1.2h-1zM528 284.1h1v2h-1zM531 284.1h1v1.2h-1zM532 284.1h1v2h-1zM537 284.1h1v1.5h-1zM539 284.1h1v1.2h-1zM568 284.1h1v1.2h-1zM569 284.1h1v1.8h-1zM572 284.1h1v2h-1zM575 284.1h1v1.2h-1zM577 284.1h1v2h-1zM578 284.1h1v1.5h-1zM587 284.1h1v1.5h-1zM599 284.1h1v1.8h-1zM608 284.1h1v2h-1zM611 284.1h1v1.5h-1zM622 284.1h1v1.5h-1zM625 284.1h1v1.8h-1zM627 284.1h1v1.5h-1zM628 284.1h1v2h-1zM634 284.1h1v1.5h-1zM636 284.1h1v2h-1zM641 284.1h1v1.5h-1zM651 284.1h1v1.8h-1zM653 284.1h1v1.8h-1zM664 284.1h1v1.8h-1zM666 284.1h1v2h-1z"/>
<path fill="#ff0000" fill-opacity="0.5" d="M468 284.1h1v1.8h-1zM469 284.1h1v1.8h-1zM471 284.1h1v1.8h-1zM488 284.1h1v1.2h-1zM501 284.1h1v1.2h-1zM506 284.1h1v1.2h-1zM509 284.1h1v1.8h-1zM529 284.1h1v1.8h-1zM538 284.1h1v1.2h-1zM543 284.1h1v2h-1zM545 284.1h1v1.5h-1zM550 284.1h1v1.5h-1zM555 284.1h1v1.2h-1zM561 284.1h1v1.2h-1zM565 284.1h1v2h-1zM570 284.1h1v1.2h-1zM583 284.1h1v2h-1zM584 284.1h1v1.2h-1zM586 284.1h1v2h-1zM590 284.1h1v1.2h-1zM603 284.1h1v1.8h-1zM617 284.1h1v1.2h-1zM618 284.1h1v1.2h-1zM621 284.1h1v2h-1zM623 284.1h1v1.8h-1zM624 284.1h1v1.2h-1zM635 284.1h1v2h-1zM644 284.1h1v1.2h-1zM645 284.1h1v1.8h-1zM652 284.1h1v1.8h-1zM656 284.1h1v1.5h-1zM658 284.1h1v1.5h-1zM663 284.1h1v2h-1zM665 284.1h1v1.5h-1zM668 284.1h1v1.8h-1z"/>
<path fill="#ff0000" fill-opacity="0.9" d="M470 284.1h1v2h-1zM473 284.1h1v2h-1zM474 284.1h1v1.5h-1zM477 284.1h1v1.2h-1zM478 284.1h1v1.8h-1zM480 284.1h1v1.5h-1zM481 284.1h1v1.2h-1zM482 284.1h1v1.5h-1zM484 284.1h1v1.5h-1zM485 284.1h1v1.5h-1zM486 284.1h1v1.5h-1zM487 284.1h1v2h-1zM492 284.1h1v2h-1zM497 284.1h1v1.5h-1zM498 284.1h1v1.2h-1zM499 284.1h1v1.8h-1zM502 284.1h1v1.5h-1zM507 284.1h1v1.5h-1zM508 284.1h1v2h-1zM511 284.1h1v1.5h-1zM512 284.1h1v2h-1zM513 284.1h1v1.5h-1zM514 284.1h1v1.2h-1zM515 284.1h1v1.5h-1zM517 284.1h1v1.5h-1zM518 284.1h1v1.2h-1zM519 284.1h1v2h-1zM520 284.1h1v1.8h-1zM522 284.1h1v1.8h-1zM523 284.1h1v1.2h-1zM525 284.1h1v2h-1zM535 284.1h1v1.5h-1zM536 284.1h1v1.2h-1zM542 284.1h1v1.2h-1zM544 284.1h1v1.5h-1zM546 284.1h1v1.5h-1zM547 284.1h1v2h-1zM551 284.1h1v1.8h-1zM554 284.1h1v2h-1zM557 284.1h1v1.8h-1zM560 284.1h1v1.5h-1zM563 284.1h1v1.2h-1zM567 284.1h1v2h-1zM571 284.1h1v1.2h-1zM573 284.1h1v1.2h-1zM574 284.1h1v1.8h-1zM576 284.1h1v1.8h-1zM581 284.1h1v1.8h-1zM582 284.1h1v2h-1zM585 284.1h1v1.8h-1zM588 284.1h1v2h-1zM589 284.1h1v2h-1zM592 284.1h1v1.2h-1zM593 284.1h1v1.8h-1zM594 284.1h1v1.5h-1zM597 284.1h1v1.8h-1zM601 284.1h1v1.2h-1zM605 284.1h1v2h-1zM606 284.1h1v1.2h-1zM610 284.1h1v1.2h-1zM620 284.1h1v1.8h-1zM629 284.1h1v1.5h-1zM630 284.1h1v1.8h-1zM631 284.1h1v1.5h-1zM632 284.1h1v1.2h-1zM637 284.1h1v1.2h-1zM638 284.1h1v1.2h-1zM639 284.1h1v2h-1zM640 284.1h1v1.8h-1zM646 284.1h1v2h-1zM648 284.1h1v1.2h-1zM649 284.1h1v1.8h-1zM650 284.1h1v1.8h-1zM654 284.1h1v1.5h-1zM655 284.1h1v1.2h-1zM657 284.1h1v1.5h-1zM659 284.1h1v1.2h-1zM660 284.1h1v1.5h-1zM661 284.1h1v1.8h-1zM662 284.1h1v2h-1zM667 284.1h1v1.8h-1z"/>
<path fill="#ff0000" fill-opacity="0.8" d="M472 284.1h1v1.5h-1zM479 284.1h1v1.2h-1zM483 284.1h1v1.5h-1zM489 284.1h1v2h-1zM490 284.1h1v1.2h-1zM491 284.1h1v2h-1zM495 284.1h1v1.8h-1zM503 284.1h1v1.8h-1zM505 284.1h1v2h-1zM516 284.1h1v2h-1zM521 284.1h1v1.8h-1zM526 284.1h1v1.2h-1zM530 284.1h1v1.8h-1zM533 284.1h1v1.8h-1zM534 284.1h1v1.8h-1zM540 284.1h1v2h-1zM541 284.1h1v1.8h-1zM548 284.1h1v1.5h-1zM549 284.1h1v2h-1zM552 284.1h1v2h-1zM553 284.1h1v1.8h-1zM556 284.1h1v1.5h-1zM558 284.1h1v2h-1zM559 284.1h1v1.2h-1zM562 284.1h1v2h-1zM564 284.1h1v2h-1zM566 284.1h1v1.5h-1zM579 284.1h1v2h-1zM580 284.1h1v2h-1zM591 284.1h1v2h-1zM595 284.1h1v1.2h-1zM596 284.1h1v2h-1zM598 284.1h1v1.5h-1zM600 284.1h1v1.8h-1zM602 284.1h1v1.8h-1zM604 284.1h1v1.2h-1zM607 284.1h1v2h-1zM609 284.1h1v2h-1zM619 284.1h1v1.2h-1zM626 284.1h1v1.8h-1zM633 284.1h1v1.8h-1zM642 284.1h1v1.5h-1zM643 284.1h1v1.2h-1zM647 284.1h1v1.5h-1z"/>
</g>
<defs><linearGradient id="cb" x1="0" y1="0" x2="0" y2="1"><stop offset="0" stop-color="#ff0000"/><stop offset="0.45" stop-color="#ff5a5a"/><stop offset="0.8" stop-color="#ffcaca"/><stop offset="1" stop-color="#ffffff"/></linearGradient></defs>
<rect x="459.4" y="64.0" width="7.6" height="18.4" fill="url(#cb)" stroke="#777" stroke-width="0.6"/>
<rect x="459.3" y="315" width="7.9" height="18.5" fill="url(#cb)" stroke="#777" stroke-width="0.6"/>
<text x="467.2" y="67.9" font-size="8.8">5.69</text>
<text x="467.2" y="86.0" font-size="8.8">0</text>
<text x="467.6" y="319.0" font-size="8.8">6.09</text>
<text x="467.6" y="337.2" font-size="8.8">0</text>
<circle cx="535.3" cy="306.6" r="2.85" fill="none" stroke="#2070b0" stroke-width="1.5"/>
<text x="570.00" y="66.80" font-size="10.3" text-anchor="middle" >ICE-normalized</text>
<text x="574.00" y="338.50" font-size="10.3" text-anchor="middle" >Raichu-normalized</text>
<line x1="516.0" y1="115.4" x2="516.0" y2="118.8" stroke="#222" stroke-width="0.8"/>
<line x1="617.2" y1="115.4" x2="617.2" y2="118.8" stroke="#222" stroke-width="0.8"/>
<text x="455.0" y="124.6" font-size="8.8">chr5</text>
<text x="516.4" y="129.5" font-size="8.8" text-anchor="middle">110,820,000</text>
<text x="617.7" y="129.5" font-size="8.8" text-anchor="middle">111,320,000</text>
<rect x="498.4" y="138.0" width="6.2" height="10.9" fill="#111"/>
<line x1="500.6" y1="138" x2="500.6" y2="148.9" stroke="#777" stroke-width="0.4"/>
<line x1="502.6" y1="138" x2="502.6" y2="148.9" stroke="#777" stroke-width="0.4"/>
<text x="505.0" y="146.4" font-size="8.8">SLC25A46</text>
<rect x="570.8" y="138.0" width="9.4" height="10.9" fill="#111"/>
<line x1="577.9" y1="138" x2="577.9" y2="148.9" stroke="#888" stroke-width="0.5"/>
<text x="562.2" y="156.6" font-size="8.8">WDR36</text>
<line x1="598.3" y1="143.6" x2="654.5" y2="143.6" stroke="#333" stroke-width="0.8"/>
<line x1="598.3" y1="138.3" x2="598.3" y2="148.7" stroke="#333" stroke-width="0.9"/>
<line x1="622.8" y1="138.1" x2="622.8" y2="148.9" stroke="#777" stroke-width="0.9"/>
<line x1="625.5" y1="138.1" x2="625.5" y2="148.9" stroke="#333" stroke-width="0.9"/>
<line x1="628.8" y1="138.1" x2="628.8" y2="148.9" stroke="#333" stroke-width="1.5"/>
<line x1="632.7" y1="138.1" x2="632.7" y2="148.9" stroke="#888" stroke-width="0.9"/>
<line x1="637.5" y1="138.1" x2="637.5" y2="148.9" stroke="#222" stroke-width="0.8"/>
<line x1="643.9" y1="138.1" x2="643.9" y2="148.9" stroke="#333" stroke-width="1.2"/>
<rect x="649.5" y="138.1" width="2.4" height="10.8" fill="#0a0a0a"/>
<rect x="651.9" y="138.1" width="1.5" height="10.8" fill="#888"/>
<text x="655.0" y="146.4" font-size="8.8">CAMK4</text>
<path d="M461.3 156.5H463.5V176.0H461.3" fill="none" stroke="#111" stroke-width="1.35"/>
<text x="461.4" y="163.5" font-size="8.8" text-anchor="end">1</text>
<text x="461.4" y="174.5" font-size="8.8" text-anchor="end">0</text>
<text x="465.0" y="168.9" font-size="8.8">RNA-Seq</text>
<line x1="598" y1="176.2" x2="668.5" y2="176.2" stroke="#e8161c" stroke-width="0.8" stroke-opacity="0.45" stroke-dasharray="5 1 2 1"/>
<path d="M598 176.5L600 175.3L606 175.6L610 176.5Z" fill="#e8161c" fill-opacity="0.3"/>
<path d="M499.50 176.5L500.50 171.8L501.50 176.5Z" fill="#e8161c" fill-opacity="0.85" stroke="#e8161c" stroke-width="0.35" stroke-opacity="0.7"/>
<path d="M501.00 176.5L501.80 172.7L502.60 176.5Z" fill="#e8161c" fill-opacity="0.85" stroke="#e8161c" stroke-width="0.35" stroke-opacity="0.7"/>
<path d="M502.50 176.5L503.60 157.9L504.70 176.5Z" fill="#e8161c" fill-opacity="0.85" stroke="#e8161c" stroke-width="0.35" stroke-opacity="0.7"/>
<path d="M570.30 176.5L571.10 162.8L571.90 176.5Z" fill="#e8161c" fill-opacity="0.85" stroke="#e8161c" stroke-width="0.35" stroke-opacity="0.7"/>
<path d="M572.80 176.5L573.50 165.1L574.20 176.5Z" fill="#e8161c" fill-opacity="0.85" stroke="#e8161c" stroke-width="0.35" stroke-opacity="0.7"/>
<path d="M575.90 176.5L576.70 162.8L577.50 176.5Z" fill="#e8161c" fill-opacity="0.85" stroke="#e8161c" stroke-width="0.35" stroke-opacity="0.7"/>
<path d="M577.50 176.5L578.30 159.8L579.10 176.5Z" fill="#e8161c" fill-opacity="0.85" stroke="#e8161c" stroke-width="0.35" stroke-opacity="0.7"/>
<path d="M627.90 176.5L628.80 173.8L629.70 176.5Z" fill="#e8161c" fill-opacity="0.85" stroke="#e8161c" stroke-width="0.35" stroke-opacity="0.7"/>
<path d="M631.00 176.5L631.60 170.8L632.20 176.5Z" fill="#e8161c" fill-opacity="0.85" stroke="#e8161c" stroke-width="0.35" stroke-opacity="0.7"/>
<path d="M632.40 176.5L633.00 168.7L633.60 176.5Z" fill="#e8161c" fill-opacity="0.85" stroke="#e8161c" stroke-width="0.35" stroke-opacity="0.7"/>
<path d="M642.80 176.5L643.40 170.0L644.00 176.5Z" fill="#e8161c" fill-opacity="0.85" stroke="#e8161c" stroke-width="0.35" stroke-opacity="0.7"/>
<path d="M650.20 176.5L651.70 157.5L653.20 176.5Z" fill="#e8161c" fill-opacity="0.85" stroke="#e8161c" stroke-width="0.35" stroke-opacity="0.7"/>
<path d="M649.00 176.5L650.00 170.8L651.00 176.5Z" fill="#e8161c" fill-opacity="0.85" stroke="#e8161c" stroke-width="0.35" stroke-opacity="0.7"/>
<path d="M652.20 176.5L653.00 170.8L653.80 176.5Z" fill="#e8161c" fill-opacity="0.85" stroke="#e8161c" stroke-width="0.35" stroke-opacity="0.7"/>
<path d="M461.3 181.8H463.5V201.3H461.3" fill="none" stroke="#111" stroke-width="1.35"/>
<text x="461.4" y="188.8" font-size="8.8" text-anchor="end">15</text>
<text x="461.4" y="199.8" font-size="8.8" text-anchor="end">0</text>
<text x="465.0" y="194.2" font-size="8.8">CTCF</text>
<line x1="465" y1="201.6" x2="668.5" y2="201.6" stroke="#5b9bd5" stroke-width="0.6" stroke-opacity="0.6" stroke-dasharray="9 1.2 4 1"/>
<path d="M468.00 201.8L468.50 184.1L469.00 201.8Z" fill="#5b9bd5" fill-opacity="0.85" stroke="#5b9bd5" stroke-width="0.35" stroke-opacity="0.7"/>
<path d="M474.80 201.8L475.30 197.8L475.80 201.8Z" fill="#5b9bd5" fill-opacity="0.85" stroke="#5b9bd5" stroke-width="0.35" stroke-opacity="0.7"/>
<path d="M494.10 201.8L494.60 199.1L495.10 201.8Z" fill="#5b9bd5" fill-opacity="0.85" stroke="#5b9bd5" stroke-width="0.35" stroke-opacity="0.7"/>
<path d="M496.00 201.8L496.50 199.9L497.00 201.8Z" fill="#5b9bd5" fill-opacity="0.85" stroke="#5b9bd5" stroke-width="0.35" stroke-opacity="0.7"/>
<path d="M502.10 201.8L502.60 183.2L503.10 201.8Z" fill="#5b9bd5" fill-opacity="0.85" stroke="#5b9bd5" stroke-width="0.35" stroke-opacity="0.7"/>
<path d="M509.10 201.8L509.60 200.7L510.10 201.8Z" fill="#5b9bd5" fill-opacity="0.85" stroke="#5b9bd5" stroke-width="0.35" stroke-opacity="0.7"/>
<path d="M524.20 201.8L524.70 183.2L525.20 201.8Z" fill="#5b9bd5" fill-opacity="0.85" stroke="#5b9bd5" stroke-width="0.35" stroke-opacity="0.7"/>
<path d="M564.90 201.8L565.40 183.4L565.90 201.8Z" fill="#5b9bd5" fill-opacity="0.85" stroke="#5b9bd5" stroke-width="0.35" stroke-opacity="0.7"/>
<path d="M580.80 201.8L581.30 195.2L581.80 201.8Z" fill="#5b9bd5" fill-opacity="0.85" stroke="#5b9bd5" stroke-width="0.35" stroke-opacity="0.7"/>
<path d="M583.90 201.8L584.40 183.4L584.90 201.8Z" fill="#5b9bd5" fill-opacity="0.85" stroke="#5b9bd5" stroke-width="0.35" stroke-opacity="0.7"/>
<path d="M584.90 201.8L585.40 197.1L585.90 201.8Z" fill="#5b9bd5" fill-opacity="0.85" stroke="#5b9bd5" stroke-width="0.35" stroke-opacity="0.7"/>
<path d="M597.80 201.8L598.40 193.8L599.00 201.8Z" fill="#5b9bd5" fill-opacity="0.85" stroke="#5b9bd5" stroke-width="0.35" stroke-opacity="0.7"/>
<path d="M609.00 201.8L609.60 183.4L610.20 201.8Z" fill="#5b9bd5" fill-opacity="0.85" stroke="#5b9bd5" stroke-width="0.35" stroke-opacity="0.7"/>
<path d="M646.00 201.8L646.60 195.5L647.20 201.8Z" fill="#5b9bd5" fill-opacity="0.85" stroke="#5b9bd5" stroke-width="0.35" stroke-opacity="0.7"/>
<path d="M647.70 201.8L648.20 199.0L648.70 201.8Z" fill="#5b9bd5" fill-opacity="0.85" stroke="#5b9bd5" stroke-width="0.35" stroke-opacity="0.7"/>
<path d="M649.50 201.8L650.00 199.5L650.50 201.8Z" fill="#5b9bd5" fill-opacity="0.85" stroke="#5b9bd5" stroke-width="0.35" stroke-opacity="0.7"/>
<path d="M660.80 201.8L661.40 188.7L662.00 201.8Z" fill="#5b9bd5" fill-opacity="0.85" stroke="#5b9bd5" stroke-width="0.35" stroke-opacity="0.7"/>
<path d="M665.10 201.8L665.60 183.4L666.10 201.8Z" fill="#5b9bd5" fill-opacity="0.85" stroke="#5b9bd5" stroke-width="0.35" stroke-opacity="0.7"/>
<path d="M461.3 207.0H463.5V226.5H461.3" fill="none" stroke="#111" stroke-width="1.35"/>
<text x="461.4" y="214.0" font-size="8.8" text-anchor="end">15</text>
<text x="461.4" y="225.0" font-size="8.8" text-anchor="end">0</text>
<text x="465.0" y="219.4" font-size="8.8">RAD21</text>
<line x1="465" y1="226.8" x2="668.5" y2="226.8" stroke="#4aaa45" stroke-width="0.6" stroke-opacity="0.6" stroke-dasharray="9 1.2 4 1"/>
<path d="M468.00 227.0L468.50 222.1L469.00 227.0Z" fill="#4aaa45" fill-opacity="0.85" stroke="#4aaa45" stroke-width="0.35" stroke-opacity="0.7"/>
<path d="M494.10 227.0L494.60 225.1L495.10 227.0Z" fill="#4aaa45" fill-opacity="0.85" stroke="#4aaa45" stroke-width="0.35" stroke-opacity="0.7"/>
<path d="M496.00 227.0L496.50 223.8L497.00 227.0Z" fill="#4aaa45" fill-opacity="0.85" stroke="#4aaa45" stroke-width="0.35" stroke-opacity="0.7"/>
<path d="M502.10 227.0L502.60 213.1L503.10 227.0Z" fill="#4aaa45" fill-opacity="0.85" stroke="#4aaa45" stroke-width="0.35" stroke-opacity="0.7"/>
<path d="M509.10 227.0L509.60 226.1L510.10 227.0Z" fill="#4aaa45" fill-opacity="0.85" stroke="#4aaa45" stroke-width="0.35" stroke-opacity="0.7"/>
<path d="M524.20 227.0L524.70 221.3L525.20 227.0Z" fill="#4aaa45" fill-opacity="0.85" stroke="#4aaa45" stroke-width="0.35" stroke-opacity="0.7"/>
<path d="M564.90 227.0L565.40 222.2L565.90 227.0Z" fill="#4aaa45" fill-opacity="0.85" stroke="#4aaa45" stroke-width="0.35" stroke-opacity="0.7"/>
<path d="M580.80 227.0L581.30 223.2L581.80 227.0Z" fill="#4aaa45" fill-opacity="0.85" stroke="#4aaa45" stroke-width="0.35" stroke-opacity="0.7"/>
<path d="M583.90 227.0L584.40 208.4L584.90 227.0Z" fill="#4aaa45" fill-opacity="0.85" stroke="#4aaa45" stroke-width="0.35" stroke-opacity="0.7"/>
<path d="M584.90 227.0L585.40 220.3L585.90 227.0Z" fill="#4aaa45" fill-opacity="0.85" stroke="#4aaa45" stroke-width="0.35" stroke-opacity="0.7"/>
<path d="M597.90 227.0L598.40 224.7L598.90 227.0Z" fill="#4aaa45" fill-opacity="0.85" stroke="#4aaa45" stroke-width="0.35" stroke-opacity="0.7"/>
<path d="M604.00 227.0L604.60 224.7L605.20 227.0Z" fill="#4aaa45" fill-opacity="0.85" stroke="#4aaa45" stroke-width="0.35" stroke-opacity="0.7"/>
<path d="M609.00 227.0L609.60 214.3L610.20 227.0Z" fill="#4aaa45" fill-opacity="0.85" stroke="#4aaa45" stroke-width="0.35" stroke-opacity="0.7"/>
<path d="M646.10 227.0L646.60 225.1L647.10 227.0Z" fill="#4aaa45" fill-opacity="0.85" stroke="#4aaa45" stroke-width="0.35" stroke-opacity="0.7"/>
<path d="M647.70 227.0L648.20 224.2L648.70 227.0Z" fill="#4aaa45" fill-opacity="0.85" stroke="#4aaa45" stroke-width="0.35" stroke-opacity="0.7"/>
<path d="M649.50 227.0L650.00 220.3L650.50 227.0Z" fill="#4aaa45" fill-opacity="0.85" stroke="#4aaa45" stroke-width="0.35" stroke-opacity="0.7"/>
<path d="M660.90 227.0L661.40 221.9L661.90 227.0Z" fill="#4aaa45" fill-opacity="0.85" stroke="#4aaa45" stroke-width="0.35" stroke-opacity="0.7"/>
<path d="M665.10 227.0L665.60 208.4L666.10 227.0Z" fill="#4aaa45" fill-opacity="0.85" stroke="#4aaa45" stroke-width="0.35" stroke-opacity="0.7"/>
<path d="M461.3 232.3H463.5V251.8H461.3" fill="none" stroke="#111" stroke-width="1.35"/>
<text x="461.4" y="239.3" font-size="8.8" text-anchor="end">20</text>
<text x="461.4" y="250.3" font-size="8.8" text-anchor="end">0</text>
<text x="465.0" y="244.7" font-size="8.8">H3K4me3</text>
<line x1="465" y1="252.1" x2="668.5" y2="252.1" stroke="#f0871a" stroke-width="0.6" stroke-opacity="0.6" stroke-dasharray="9 1.2 4 1"/>
<path d="M496.65 252.3L497.30 238.6L497.95 252.3Z" fill="#f0871a" fill-opacity="0.85" stroke="#f0871a" stroke-width="0.35" stroke-opacity="0.7"/>
<path d="M495.80 252.3L496.30 246.6L496.80 252.3Z" fill="#f0871a" fill-opacity="0.85" stroke="#f0871a" stroke-width="0.35" stroke-opacity="0.7"/>
<path d="M501.10 252.3L501.60 247.0L502.10 252.3Z" fill="#f0871a" fill-opacity="0.85" stroke="#f0871a" stroke-width="0.35" stroke-opacity="0.7"/>
<path d="M498.70 252.3L499.20 248.5L499.70 252.3Z" fill="#f0871a" fill-opacity="0.85" stroke="#f0871a" stroke-width="0.35" stroke-opacity="0.7"/>
<path d="M567.00 252.3L567.50 248.5L568.00 252.3Z" fill="#f0871a" fill-opacity="0.85" stroke="#f0871a" stroke-width="0.35" stroke-opacity="0.7"/>
<path d="M570.60 252.3L571.20 233.7L571.80 252.3Z" fill="#f0871a" fill-opacity="0.85" stroke="#f0871a" stroke-width="0.35" stroke-opacity="0.7"/>
<path d="M597.60 252.3L598.40 233.7L599.20 252.3Z" fill="#f0871a" fill-opacity="0.85" stroke="#f0871a" stroke-width="0.35" stroke-opacity="0.7"/>
<path d="M598.80 252.3L599.60 242.8L600.40 252.3Z" fill="#f0871a" fill-opacity="0.85" stroke="#f0871a" stroke-width="0.35" stroke-opacity="0.7"/>
<path d="M603.90 252.3L604.50 247.6L605.10 252.3Z" fill="#f0871a" fill-opacity="0.85" stroke="#f0871a" stroke-width="0.35" stroke-opacity="0.7"/>
<path d="M614.50 252.3L615.00 251.2L615.50 252.3Z" fill="#f0871a" fill-opacity="0.85" stroke="#f0871a" stroke-width="0.35" stroke-opacity="0.7"/>
<path d="M656.80 252.3L657.50 233.7L658.20 252.3Z" fill="#f0871a" fill-opacity="0.85" stroke="#f0871a" stroke-width="0.35" stroke-opacity="0.7"/>
<path d="M655.70 252.3L656.20 248.5L656.70 252.3Z" fill="#f0871a" fill-opacity="0.85" stroke="#f0871a" stroke-width="0.35" stroke-opacity="0.7"/>
<path d="M461.3 257.5H463.5V277.0H461.3" fill="none" stroke="#111" stroke-width="1.35"/>
<text x="461.4" y="264.5" font-size="8.8" text-anchor="end">40</text>
<text x="461.4" y="275.5" font-size="8.8" text-anchor="end">0</text>
<text x="465.0" y="269.9" font-size="8.8">H3K27ac</text>
<line x1="465" y1="277.3" x2="668.5" y2="277.3" stroke="#6a3d9a" stroke-width="0.6" stroke-opacity="0.6" stroke-dasharray="9 1.2 4 1"/>
<path d="M498.15 277.5L498.80 259.4L499.45 277.5Z" fill="#6a3d9a" fill-opacity="0.85" stroke="#6a3d9a" stroke-width="0.35" stroke-opacity="0.7"/>
<path d="M501.10 277.5L501.60 265.5L502.10 277.5Z" fill="#6a3d9a" fill-opacity="0.85" stroke="#6a3d9a" stroke-width="0.35" stroke-opacity="0.7"/>
<path d="M497.00 277.5L497.50 274.6L498.00 277.5Z" fill="#6a3d9a" fill-opacity="0.85" stroke="#6a3d9a" stroke-width="0.35" stroke-opacity="0.7"/>
<path d="M570.60 277.5L571.20 273.3L571.80 277.5Z" fill="#6a3d9a" fill-opacity="0.85" stroke="#6a3d9a" stroke-width="0.35" stroke-opacity="0.7"/>
<path d="M597.70 277.5L598.40 259.4L599.10 277.5Z" fill="#6a3d9a" fill-opacity="0.85" stroke="#6a3d9a" stroke-width="0.35" stroke-opacity="0.7"/>
<path d="M598.60 277.5L599.60 268.0L600.60 277.5Z" fill="#6a3d9a" fill-opacity="0.85" stroke="#6a3d9a" stroke-width="0.35" stroke-opacity="0.7"/>
<path d="M603.80 277.5L604.50 259.4L605.20 277.5Z" fill="#6a3d9a" fill-opacity="0.85" stroke="#6a3d9a" stroke-width="0.35" stroke-opacity="0.7"/>
<path d="M610.50 277.5L611.00 276.6L611.50 277.5Z" fill="#6a3d9a" fill-opacity="0.85" stroke="#6a3d9a" stroke-width="0.35" stroke-opacity="0.7"/>
<path d="M616.50 277.5L617.00 276.6L617.50 277.5Z" fill="#6a3d9a" fill-opacity="0.85" stroke="#6a3d9a" stroke-width="0.35" stroke-opacity="0.7"/>
<path d="M652.80 277.5L653.50 273.3L654.20 277.5Z" fill="#6a3d9a" fill-opacity="0.85" stroke="#6a3d9a" stroke-width="0.35" stroke-opacity="0.7"/>
<path d="M656.70 277.5L657.50 259.4L658.30 277.5Z" fill="#6a3d9a" fill-opacity="0.85" stroke="#6a3d9a" stroke-width="0.35" stroke-opacity="0.7"/>
<path d="M655.10 277.5L655.70 271.8L656.30 277.5Z" fill="#6a3d9a" fill-opacity="0.85" stroke="#6a3d9a" stroke-width="0.35" stroke-opacity="0.7"/>
<rect x="495.4" y="113.9" width="8.8" height="169.4" fill="#ffff00" fill-opacity="0.19"/>
<rect x="568.3" y="113.9" width="9.1" height="169.4" fill="#ffff00" fill-opacity="0.19"/>
</svg></body></html>
